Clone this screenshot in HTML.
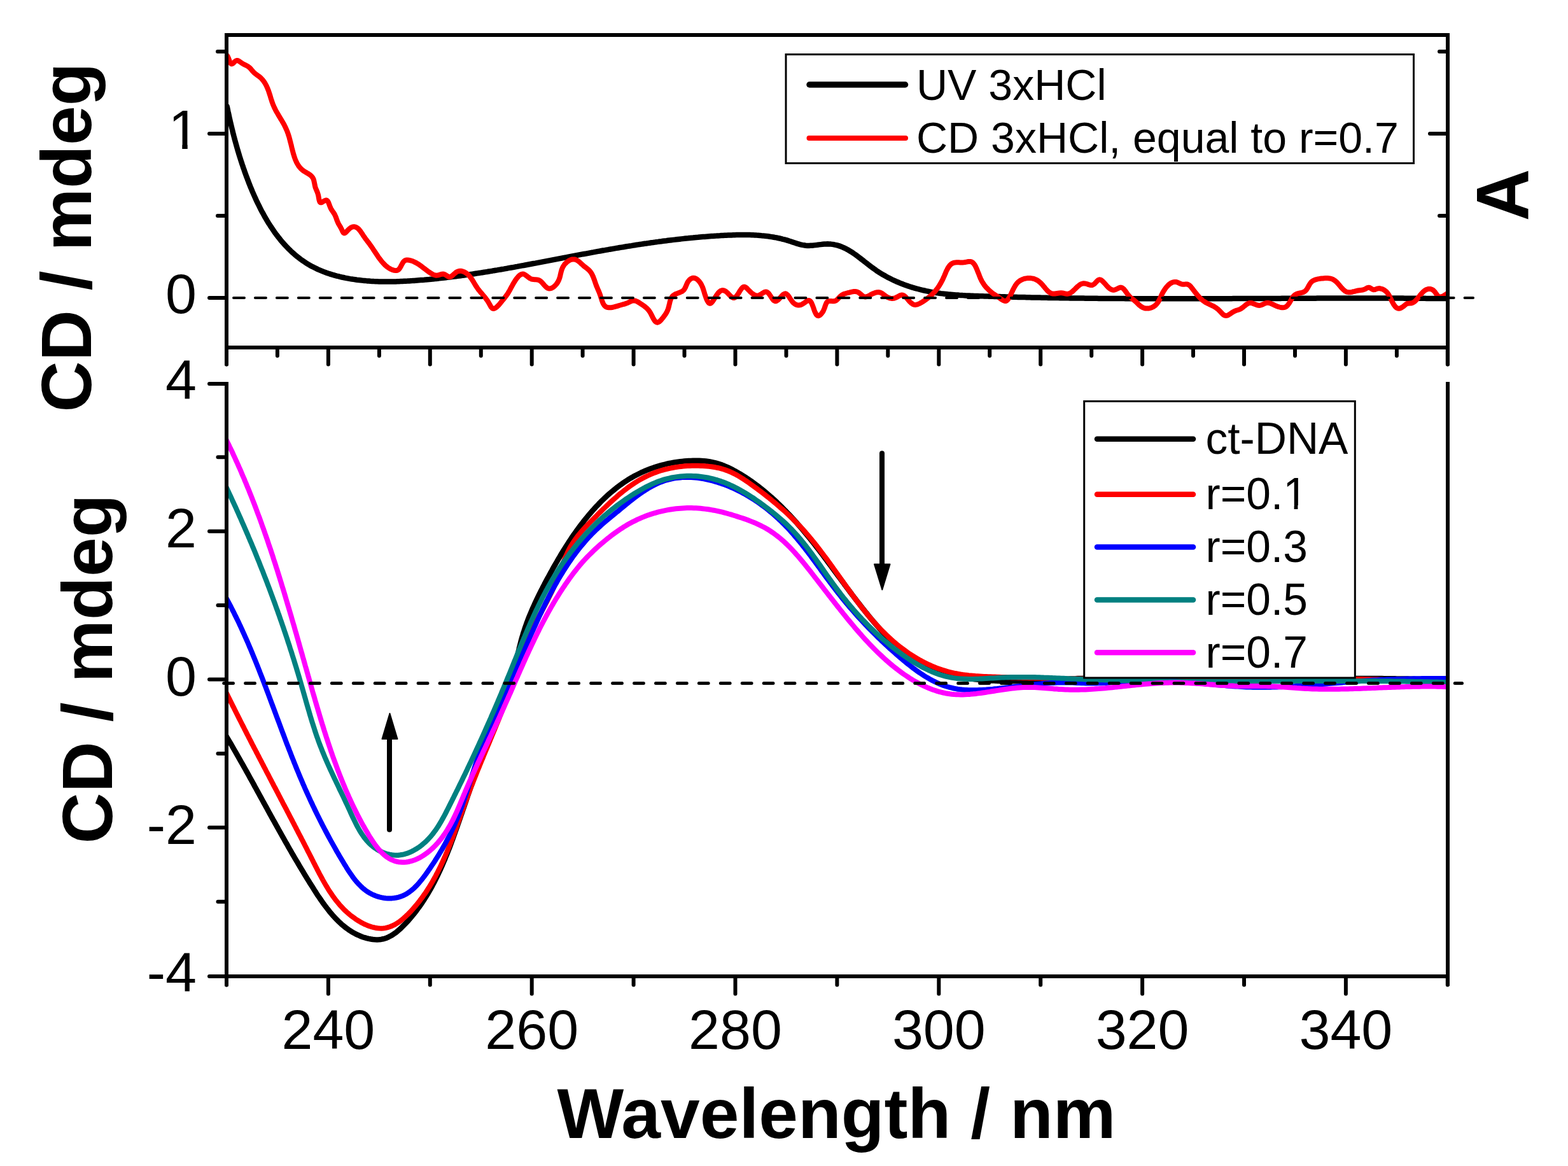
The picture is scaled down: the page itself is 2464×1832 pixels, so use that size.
<!DOCTYPE html><html><head><meta charset="utf-8"><title>CD spectra</title><style>html,body{margin:0;padding:0;background:#fff;}svg{display:block;}</style></head><body>
<svg xmlns="http://www.w3.org/2000/svg" width="2464" height="1832" viewBox="0 0 2464 1832">
<rect x="0" y="0" width="2464" height="1832" fill="#fff"/>
<defs><clipPath id="ctop"><rect x="356" y="55" width="1919" height="491"/></clipPath><clipPath id="cbot"><rect x="356" y="560" width="1919" height="974"/></clipPath><clipPath id="clip1"><rect x="240" y="150" width="90" height="76.9"/><rect x="286.3" y="227" width="8.4" height="13"/></clipPath><clipPath id="clip01"><rect x="1880" y="700" width="140.3" height="120"/><rect x="2020.3" y="700" width="40" height="93.9"/><rect x="2033.6" y="794" width="5.8" height="12"/></clipPath></defs>
<g clip-path="url(#ctop)" fill="none" stroke-linejoin="round" stroke-linecap="round">
<path d="M356.6,166.8 L357.2,169.5 L357.8,172.2 L358.3,174.8 L358.9,177.5 L359.5,180.1 L360.0,182.8 L360.6,185.4 L361.2,188.0 L361.8,190.6 L362.4,193.2 L363.0,195.8 L363.6,198.3 L364.2,200.9 L364.9,203.5 L365.5,206.0 L366.1,208.6 L366.8,211.1 L367.4,213.6 L368.1,216.1 L368.7,218.7 L369.4,221.2 L370.1,223.7 L370.8,226.2 L371.5,228.7 L372.2,231.2 L372.9,233.6 L373.6,236.1 L374.4,238.6 L375.1,241.1 L375.9,243.6 L376.6,246.0 L377.4,248.5 L378.2,251.0 L379.0,253.5 L379.8,255.9 L380.6,258.4 L381.5,260.9 L382.3,263.4 L383.2,265.8 L384.0,268.3 L384.9,270.8 L385.8,273.3 L386.7,275.7 L387.6,278.2 L388.6,280.7 L389.5,283.2 L390.5,285.7 L391.4,288.2 L392.4,290.7 L393.4,293.2 L394.5,295.7 L395.5,298.1 L396.5,300.6 L397.6,303.1 L398.7,305.6 L399.8,308.1 L400.9,310.5 L402.0,313.0 L403.1,315.4 L404.3,317.9 L405.5,320.3 L406.7,322.7 L407.9,325.2 L409.1,327.6 L410.3,330.0 L411.6,332.4 L412.9,334.7 L414.2,337.1 L415.5,339.5 L416.8,341.8 L418.2,344.1 L419.5,346.4 L420.9,348.7 L422.3,351.0 L423.8,353.3 L425.2,355.5 L426.7,357.7 L428.2,359.9 L429.7,362.1 L431.2,364.3 L432.7,366.5 L434.3,368.6 L435.9,370.7 L437.5,372.8 L439.2,374.8 L440.8,376.9 L442.5,378.9 L444.2,380.9 L445.9,382.8 L447.7,384.8 L449.4,386.7 L451.2,388.6 L453.0,390.4 L454.9,392.3 L456.7,394.1 L458.6,395.8 L460.5,397.6 L462.5,399.3 L464.4,401.0 L466.4,402.6 L468.4,404.2 L470.5,405.8 L472.5,407.4 L474.6,408.9 L476.7,410.3 L478.9,411.8 L481.0,413.2 L483.2,414.6 L485.4,415.9 L487.7,417.2 L489.9,418.4 L492.2,419.6 L494.6,420.8 L496.9,421.9 L499.3,423.1 L501.7,424.1 L504.1,425.1 L506.5,426.1 L509.0,427.1 L511.4,428.0 L513.9,428.9 L516.5,429.8 L519.0,430.6 L521.5,431.4 L524.1,432.1 L526.6,432.9 L529.2,433.6 L531.8,434.2 L534.4,434.9 L537.0,435.5 L539.7,436.0 L542.3,436.6 L544.9,437.1 L547.6,437.6 L550.2,438.1 L552.9,438.5 L555.6,438.9 L558.2,439.3 L560.9,439.7 L563.6,440.0 L566.2,440.3 L568.9,440.6 L571.5,440.9 L574.2,441.1 L576.9,441.4 L579.5,441.6 L582.2,441.8 L584.8,441.9 L587.5,442.1 L590.1,442.2 L592.8,442.3 L595.4,442.4 L598.1,442.4 L600.7,442.5 L603.4,442.5 L606.0,442.6 L608.7,442.6 L611.3,442.6 L613.9,442.5 L616.6,442.5 L619.2,442.4 L621.9,442.4 L624.5,442.3 L627.1,442.2 L629.7,442.1 L632.4,442.0 L635.0,441.8 L637.6,441.7 L640.3,441.6 L642.9,441.4 L645.5,441.2 L648.1,441.1 L650.8,440.9 L653.4,440.7 L656.0,440.5 L658.6,440.3 L661.3,440.1 L663.9,439.9 L666.5,439.7 L669.1,439.4 L671.7,439.2 L674.4,439.0 L677.0,438.7 L679.6,438.5 L682.2,438.2 L684.8,437.9 L687.5,437.7 L690.1,437.4 L692.7,437.1 L695.3,436.8 L697.9,436.5 L700.5,436.2 L703.1,435.9 L705.8,435.6 L708.4,435.2 L711.0,434.9 L713.6,434.6 L716.2,434.3 L718.8,433.9 L721.4,433.6 L724.0,433.2 L726.6,432.9 L729.2,432.5 L731.9,432.1 L734.5,431.8 L737.1,431.4 L739.7,431.0 L742.3,430.6 L744.9,430.2 L747.5,429.8 L750.1,429.4 L752.7,429.0 L755.3,428.6 L757.9,428.2 L760.5,427.8 L763.1,427.4 L765.7,427.0 L768.3,426.5 L770.9,426.1 L773.5,425.7 L776.1,425.2 L778.7,424.8 L781.3,424.4 L783.9,423.9 L786.5,423.5 L789.1,423.0 L791.7,422.6 L794.3,422.1 L796.9,421.7 L799.5,421.2 L802.1,420.7 L804.7,420.3 L807.3,419.8 L809.9,419.3 L812.5,418.9 L815.1,418.4 L817.7,417.9 L820.3,417.4 L822.9,417.0 L825.5,416.5 L828.1,416.0 L830.7,415.5 L833.3,415.0 L835.9,414.5 L838.5,414.0 L841.1,413.6 L843.7,413.1 L846.3,412.6 L848.9,412.1 L851.5,411.6 L854.1,411.1 L856.7,410.6 L859.3,410.1 L861.9,409.6 L864.5,409.1 L867.1,408.6 L869.7,408.1 L872.3,407.6 L874.9,407.1 L877.5,406.6 L880.1,406.1 L882.7,405.6 L885.3,405.1 L887.9,404.6 L890.5,404.2 L893.1,403.7 L895.7,403.2 L898.3,402.7 L900.9,402.2 L903.6,401.7 L906.2,401.2 L908.8,400.7 L911.4,400.2 L914.0,399.7 L916.6,399.2 L919.2,398.8 L921.8,398.3 L924.4,397.8 L927.0,397.3 L929.6,396.8 L932.2,396.4 L934.8,395.9 L937.4,395.4 L940.0,394.9 L942.6,394.5 L945.2,394.0 L947.8,393.5 L950.4,393.1 L953.0,392.6 L955.7,392.2 L958.3,391.7 L960.9,391.3 L963.5,390.8 L966.1,390.4 L968.7,389.9 L971.3,389.5 L973.9,389.0 L976.5,388.6 L979.1,388.2 L981.8,387.7 L984.4,387.3 L987.0,386.9 L989.6,386.5 L992.2,386.1 L994.8,385.6 L997.4,385.2 L1000.0,384.8 L1002.7,384.4 L1005.3,384.0 L1007.9,383.6 L1010.5,383.2 L1013.1,382.8 L1015.7,382.5 L1018.3,382.1 L1021.0,381.7 L1023.6,381.3 L1026.2,381.0 L1028.8,380.6 L1031.4,380.2 L1034.0,379.9 L1036.7,379.5 L1039.3,379.2 L1041.9,378.8 L1044.5,378.5 L1047.1,378.2 L1049.8,377.8 L1052.4,377.5 L1055.0,377.2 L1057.6,376.9 L1060.2,376.6 L1062.9,376.3 L1065.5,376.0 L1068.1,375.7 L1070.7,375.4 L1073.3,375.1 L1076.0,374.8 L1078.6,374.5 L1081.2,374.3 L1083.8,374.0 L1086.5,373.7 L1089.1,373.5 L1091.7,373.2 L1094.3,373.0 L1096.9,372.8 L1099.6,372.5 L1102.2,372.3 L1104.8,372.1 L1107.4,371.9 L1110.1,371.7 L1112.7,371.5 L1115.3,371.3 L1118.0,371.1 L1120.6,370.9 L1123.2,370.7 L1125.8,370.6 L1128.5,370.4 L1131.1,370.3 L1133.7,370.1 L1136.3,370.0 L1139.0,369.8 L1141.6,369.7 L1144.2,369.6 L1146.9,369.5 L1149.5,369.4 L1152.1,369.3 L1154.7,369.2 L1157.4,369.1 L1160.0,369.1 L1162.6,369.0 L1165.3,369.0 L1167.9,369.0 L1170.5,369.0 L1173.1,369.0 L1175.7,369.1 L1178.4,369.1 L1181.0,369.2 L1183.6,369.3 L1186.2,369.4 L1188.8,369.6 L1191.4,369.7 L1194.0,369.9 L1196.6,370.2 L1199.3,370.4 L1201.9,370.7 L1204.4,371.0 L1207.0,371.3 L1209.6,371.7 L1212.2,372.1 L1214.8,372.5 L1217.4,373.0 L1220.0,373.4 L1222.5,374.0 L1225.1,374.5 L1227.7,375.1 L1230.2,375.8 L1232.8,376.4 L1235.4,377.1 L1237.9,377.9 L1240.4,378.7 L1243.0,379.5 L1245.5,380.4 L1248.1,381.2 L1250.6,382.1 L1253.1,382.9 L1255.7,383.6 L1258.3,384.3 L1260.8,384.9 L1263.4,385.3 L1266.0,385.7 L1268.6,385.9 L1271.3,385.9 L1273.9,385.8 L1276.6,385.7 L1279.3,385.4 L1281.9,385.1 L1284.6,384.8 L1287.3,384.4 L1289.9,384.1 L1292.6,383.8 L1295.2,383.6 L1297.9,383.4 L1300.5,383.3 L1303.1,383.4 L1305.6,383.6 L1308.2,383.9 L1310.7,384.3 L1313.1,384.8 L1315.6,385.4 L1318.0,386.1 L1320.4,386.9 L1322.8,387.8 L1325.1,388.8 L1327.4,389.9 L1329.7,391.0 L1331.9,392.2 L1334.1,393.5 L1336.3,394.8 L1338.5,396.2 L1340.7,397.6 L1342.8,399.1 L1345.0,400.6 L1347.1,402.2 L1349.2,403.8 L1351.3,405.4 L1353.4,407.0 L1355.5,408.6 L1357.6,410.3 L1359.8,412.0 L1361.9,413.6 L1364.0,415.3 L1366.1,416.9 L1368.3,418.6 L1370.4,420.2 L1372.6,421.8 L1374.8,423.3 L1377.0,424.9 L1379.2,426.4 L1381.4,427.8 L1383.7,429.3 L1386.0,430.7 L1388.3,432.0 L1390.6,433.3 L1392.9,434.6 L1395.3,435.9 L1397.6,437.1 L1400.0,438.3 L1402.4,439.5 L1404.8,440.6 L1407.2,441.7 L1409.6,442.8 L1412.1,443.8 L1414.5,444.8 L1417.0,445.8 L1419.5,446.8 L1422.0,447.7 L1424.5,448.6 L1427.0,449.4 L1429.5,450.3 L1432.1,451.1 L1434.6,451.9 L1437.1,452.6 L1439.7,453.3 L1442.3,454.0 L1444.8,454.7 L1447.4,455.3 L1450.0,456.0 L1452.6,456.5 L1455.2,457.1 L1457.8,457.6 L1460.4,458.2 L1463.0,458.7 L1465.6,459.1 L1468.2,459.6 L1470.8,460.0 L1473.4,460.4 L1476.0,460.7 L1478.6,461.1 L1481.3,461.4 L1483.9,461.7 L1486.5,462.0 L1489.1,462.3 L1491.7,462.6 L1494.4,462.8 L1497.0,463.0 L1499.6,463.2 L1502.3,463.4 L1504.9,463.6 L1507.5,463.8 L1510.1,463.9 L1512.8,464.1 L1515.4,464.2 L1518.0,464.4 L1520.7,464.5 L1523.3,464.6 L1525.9,464.7 L1528.6,464.8 L1531.2,464.9 L1533.8,465.0 L1536.5,465.1 L1539.1,465.2 L1541.8,465.3 L1544.4,465.3 L1547.0,465.4 L1549.7,465.5 L1552.3,465.6 L1554.9,465.7 L1557.6,465.8 L1560.2,465.8 L1562.8,465.9 L1565.5,466.0 L1568.1,466.1 L1570.8,466.1 L1573.4,466.2 L1576.0,466.3 L1578.7,466.3 L1581.3,466.4 L1583.9,466.5 L1586.6,466.6 L1589.2,466.6 L1591.8,466.7 L1594.5,466.8 L1597.1,466.8 L1599.8,466.9 L1602.4,466.9 L1605.0,467.0 L1607.7,467.1 L1610.3,467.1 L1613.0,467.2 L1615.6,467.2 L1618.2,467.3 L1620.9,467.4 L1623.5,467.4 L1626.1,467.5 L1628.8,467.5 L1631.4,467.6 L1634.1,467.6 L1636.7,467.7 L1639.3,467.7 L1642.0,467.8 L1644.6,467.8 L1647.3,467.9 L1649.9,467.9 L1652.5,467.9 L1655.2,468.0 L1657.8,468.0 L1660.5,468.1 L1663.1,468.1 L1665.7,468.2 L1668.4,468.2 L1671.0,468.2 L1673.7,468.3 L1676.3,468.3 L1678.9,468.3 L1681.6,468.4 L1684.2,468.4 L1686.9,468.4 L1689.5,468.5 L1692.1,468.5 L1694.8,468.5 L1697.4,468.6 L1700.1,468.6 L1702.7,468.6 L1705.3,468.7 L1708.0,468.7 L1710.6,468.7 L1713.3,468.7 L1715.9,468.8 L1718.5,468.8 L1721.2,468.8 L1723.8,468.8 L1726.5,468.9 L1729.1,468.9 L1731.7,468.9 L1734.4,468.9 L1737.0,469.0 L1739.7,469.0 L1742.3,469.0 L1745.0,469.0 L1747.6,469.0 L1750.2,469.1 L1752.9,469.1 L1755.5,469.1 L1758.2,469.1 L1760.8,469.1 L1763.4,469.1 L1766.1,469.1 L1768.7,469.2 L1771.4,469.2 L1774.0,469.2 L1776.7,469.2 L1779.3,469.2 L1781.9,469.2 L1784.6,469.2 L1787.2,469.2 L1789.9,469.2 L1792.5,469.3 L1795.2,469.3 L1797.8,469.3 L1800.4,469.3 L1803.1,469.3 L1805.7,469.3 L1808.4,469.3 L1811.0,469.3 L1813.6,469.3 L1816.3,469.3 L1818.9,469.3 L1821.6,469.3 L1824.2,469.3 L1826.9,469.3 L1829.5,469.3 L1832.1,469.3 L1834.8,469.3 L1837.4,469.3 L1840.1,469.3 L1842.7,469.3 L1845.4,469.3 L1848.0,469.3 L1850.6,469.3 L1853.3,469.3 L1855.9,469.3 L1858.6,469.3 L1861.2,469.3 L1863.9,469.3 L1866.5,469.3 L1869.1,469.3 L1871.8,469.3 L1874.4,469.3 L1877.1,469.3 L1879.7,469.3 L1882.4,469.3 L1885.0,469.3 L1887.6,469.3 L1890.3,469.3 L1892.9,469.3 L1895.6,469.3 L1898.2,469.3 L1900.9,469.3 L1903.5,469.2 L1906.1,469.2 L1908.8,469.2 L1911.4,469.2 L1914.1,469.2 L1916.7,469.2 L1919.4,469.2 L1922.0,469.2 L1924.7,469.2 L1927.3,469.2 L1929.9,469.2 L1932.6,469.2 L1935.2,469.2 L1937.9,469.1 L1940.5,469.1 L1943.2,469.1 L1945.8,469.1 L1948.4,469.1 L1951.1,469.1 L1953.7,469.1 L1956.4,469.1 L1959.0,469.1 L1961.7,469.1 L1964.3,469.0 L1966.9,469.0 L1969.6,469.0 L1972.2,469.0 L1974.9,469.0 L1977.5,469.0 L1980.2,469.0 L1982.8,469.0 L1985.4,469.0 L1988.1,469.0 L1990.7,468.9 L1993.4,468.9 L1996.0,468.9 L1998.7,468.9 L2001.3,468.9 L2003.9,468.9 L2006.6,468.9 L2009.2,468.9 L2011.9,468.9 L2014.5,468.8 L2017.2,468.8 L2019.8,468.8 L2022.4,468.8 L2025.1,468.8 L2027.7,468.8 L2030.4,468.8 L2033.0,468.8 L2035.7,468.8 L2038.3,468.8 L2040.9,468.7 L2043.6,468.7 L2046.2,468.7 L2048.9,468.7 L2051.5,468.7 L2054.2,468.7 L2056.8,468.7 L2059.4,468.7 L2062.1,468.7 L2064.7,468.7 L2067.4,468.7 L2070.0,468.6 L2072.7,468.6 L2075.3,468.6 L2077.9,468.6 L2080.6,468.6 L2083.2,468.6 L2085.9,468.6 L2088.5,468.6 L2091.2,468.6 L2093.8,468.6 L2096.4,468.6 L2099.1,468.6 L2101.7,468.6 L2104.4,468.6 L2107.0,468.6 L2109.6,468.6 L2112.3,468.6 L2114.9,468.5 L2117.6,468.5 L2120.2,468.5 L2122.9,468.5 L2125.5,468.5 L2128.1,468.5 L2130.8,468.5 L2133.4,468.5 L2136.1,468.5 L2138.7,468.5 L2141.3,468.5 L2144.0,468.5 L2146.6,468.5 L2149.3,468.5 L2151.9,468.5 L2154.6,468.5 L2157.2,468.5 L2159.8,468.5 L2162.5,468.5 L2165.1,468.5 L2167.8,468.5 L2170.4,468.6 L2173.0,468.6 L2175.7,468.6 L2178.3,468.6 L2181.0,468.6 L2183.6,468.6 L2186.2,468.6 L2188.9,468.6 L2191.5,468.6 L2194.2,468.6 L2196.8,468.6 L2199.4,468.6 L2202.1,468.6 L2204.7,468.6 L2207.4,468.7 L2210.0,468.7 L2212.6,468.7 L2215.3,468.7 L2217.9,468.7 L2220.6,468.7 L2223.2,468.7 L2225.8,468.8 L2228.5,468.8 L2231.1,468.8 L2233.8,468.8 L2236.4,468.8 L2239.0,468.8 L2241.7,468.9 L2244.3,468.9 L2247.0,468.9 L2249.6,468.9 L2252.2,468.9 L2254.9,469.0 L2257.5,469.0 L2260.1,469.0 L2262.8,469.0 L2265.4,469.0 L2268.1,469.1 L2270.7,469.1 L2273.3,469.1 L2276.0,469.2" stroke="#000" stroke-width="8.5"/>
<path d="M356.5,86.9 L357.6,88.4 L358.5,90.3 L359.4,92.4 L360.2,94.6 L360.9,96.6 L361.7,98.4 L362.6,99.8 L363.6,100.5 L364.6,100.5 L365.9,99.8 L367.3,98.5 L368.7,97.0 L370.2,95.8 L371.8,95.0 L373.3,94.9 L374.9,95.6 L376.4,96.6 L378.0,97.8 L379.6,98.9 L381.2,99.9 L382.8,100.8 L384.4,101.6 L386.0,102.4 L387.5,103.1 L388.9,103.9 L390.3,104.8 L391.7,105.9 L392.9,107.0 L394.1,108.3 L395.2,109.6 L396.3,111.0 L397.5,112.3 L398.7,113.6 L400.0,114.8 L401.3,115.8 L402.7,116.9 L404.1,117.9 L405.5,118.9 L406.9,119.9 L408.2,121.0 L409.6,122.1 L410.8,123.4 L412.0,124.7 L413.2,126.1 L414.3,127.5 L415.3,129.0 L416.3,130.5 L417.2,132.1 L418.1,133.7 L418.9,135.3 L419.6,137.0 L420.4,138.6 L421.0,140.3 L421.7,141.9 L422.3,143.6 L422.8,145.3 L423.4,147.0 L423.9,148.7 L424.5,150.4 L425.0,152.1 L425.5,153.8 L426.0,155.5 L426.6,157.2 L427.1,158.9 L427.7,160.6 L428.3,162.2 L428.9,163.9 L429.6,165.6 L430.3,167.2 L431.0,168.8 L431.8,170.4 L432.6,172.0 L433.4,173.6 L434.3,175.2 L435.2,176.8 L436.1,178.3 L437.0,179.9 L437.9,181.4 L438.8,183.0 L439.8,184.5 L440.7,186.1 L441.6,187.6 L442.6,189.2 L443.5,190.7 L444.4,192.3 L445.3,193.9 L446.2,195.4 L447.0,197.0 L447.8,198.6 L448.6,200.2 L449.3,201.8 L450.0,203.4 L450.7,205.0 L451.4,206.6 L452.0,208.3 L452.6,209.9 L453.1,211.6 L453.7,213.3 L454.2,214.9 L454.7,216.6 L455.1,218.3 L455.6,220.0 L456.0,221.8 L456.5,223.5 L456.9,225.2 L457.4,227.0 L457.8,228.7 L458.2,230.5 L458.6,232.2 L459.1,234.0 L459.5,235.8 L460.0,237.5 L460.4,239.3 L460.9,241.1 L461.4,242.8 L462.0,244.6 L462.5,246.3 L463.1,248.0 L463.7,249.7 L464.4,251.4 L465.1,253.0 L465.8,254.7 L466.6,256.2 L467.5,257.7 L468.4,259.2 L469.3,260.7 L470.3,262.0 L471.4,263.4 L472.6,264.7 L473.8,265.9 L475.1,267.0 L476.5,268.1 L478.0,269.1 L479.5,270.0 L481.1,270.9 L482.6,271.9 L484.2,272.8 L485.7,273.7 L487.1,274.7 L488.5,275.8 L489.7,277.0 L490.8,278.3 L491.7,279.7 L492.5,281.3 L493.1,283.0 L493.5,284.8 L493.9,286.7 L494.3,288.6 L494.6,290.4 L495.0,292.2 L495.4,294.0 L496.0,295.6 L496.6,297.1 L497.3,298.7 L497.9,300.2 L498.6,301.8 L499.2,303.6 L499.8,305.4 L500.3,307.5 L500.7,309.7 L501.1,312.0 L501.5,314.2 L502.0,316.0 L502.7,317.4 L503.6,318.2 L504.8,318.3 L506.3,317.7 L507.9,316.7 L509.6,315.6 L511.3,314.8 L512.7,314.5 L514.0,315.0 L515.0,316.0 L515.9,317.6 L516.7,319.5 L517.4,321.5 L518.2,323.6 L519.0,325.7 L519.8,327.5 L520.8,329.2 L521.8,330.8 L522.8,332.2 L523.8,333.6 L524.7,335.0 L525.6,336.4 L526.4,338.0 L527.1,339.6 L527.8,341.2 L528.4,342.9 L529.0,344.6 L529.6,346.3 L530.3,348.0 L531.0,349.6 L531.7,351.2 L532.6,352.7 L533.5,354.2 L534.4,355.7 L535.3,357.3 L536.2,359.0 L537.1,360.9 L538.0,362.9 L538.9,364.6 L539.8,365.8 L540.9,366.4 L542.1,366.1 L543.4,365.1 L544.8,363.7 L546.3,362.1 L547.9,360.4 L549.5,359.0 L551.0,357.8 L552.6,357.0 L554.2,356.4 L555.8,356.2 L557.3,356.3 L558.7,356.6 L560.1,357.3 L561.5,358.1 L562.8,359.2 L564.0,360.4 L565.2,361.8 L566.4,363.3 L567.5,364.9 L568.6,366.5 L569.7,368.2 L570.8,369.9 L571.9,371.5 L573.0,373.1 L574.0,374.6 L575.1,376.0 L576.2,377.4 L577.2,378.8 L578.3,380.1 L579.3,381.5 L580.3,382.8 L581.3,384.2 L582.3,385.6 L583.3,387.0 L584.3,388.4 L585.3,389.9 L586.3,391.4 L587.2,392.8 L588.2,394.3 L589.2,395.8 L590.2,397.3 L591.2,398.8 L592.2,400.3 L593.2,401.8 L594.2,403.3 L595.3,404.8 L596.4,406.3 L597.5,407.7 L598.6,409.2 L599.7,410.6 L600.9,412.0 L602.1,413.4 L603.4,414.7 L604.6,416.0 L605.9,417.2 L607.3,418.4 L608.7,419.5 L610.1,420.5 L611.6,421.5 L613.1,422.4 L614.7,423.2 L616.3,423.9 L618.0,424.4 L619.7,424.9 L621.4,425.1 L623.0,425.1 L624.5,424.7 L625.9,424.0 L627.1,422.8 L628.2,421.3 L629.3,419.6 L630.3,417.8 L631.2,415.9 L632.3,414.0 L633.3,412.3 L634.5,410.8 L635.8,409.6 L637.2,408.9 L638.9,408.5 L640.6,408.5 L642.4,408.7 L644.1,409.1 L645.9,409.5 L647.5,410.0 L649.1,410.6 L650.7,411.3 L652.3,412.1 L653.8,412.9 L655.3,413.7 L656.8,414.6 L658.3,415.6 L659.7,416.6 L661.2,417.6 L662.6,418.7 L664.0,419.8 L665.5,420.9 L666.9,422.0 L668.4,423.1 L669.8,424.2 L671.3,425.3 L672.8,426.4 L674.3,427.5 L675.9,428.5 L677.5,429.6 L679.1,430.5 L680.7,431.4 L682.4,432.0 L684.0,432.5 L685.7,432.7 L687.5,432.6 L689.2,432.3 L690.9,431.7 L692.7,431.2 L694.4,430.7 L696.1,430.5 L697.7,430.7 L699.3,431.4 L700.9,432.4 L702.5,433.5 L704.0,434.4 L705.5,435.1 L707.0,435.1 L708.4,434.7 L709.9,433.8 L711.3,432.6 L712.8,431.2 L714.3,429.8 L715.9,428.5 L717.5,427.3 L719.2,426.5 L720.9,426.0 L722.7,425.8 L724.5,425.8 L726.2,426.1 L727.9,426.7 L729.6,427.3 L731.2,428.2 L732.6,429.1 L734.0,430.2 L735.4,431.3 L736.6,432.6 L737.8,433.9 L738.9,435.3 L740.0,436.7 L741.1,438.2 L742.1,439.8 L743.1,441.3 L744.1,442.9 L745.0,444.5 L746.0,446.1 L746.9,447.7 L747.9,449.3 L748.9,450.8 L749.9,452.3 L750.9,453.7 L751.9,455.1 L753.0,456.4 L754.1,457.8 L755.2,459.1 L756.3,460.4 L757.4,461.7 L758.5,463.0 L759.6,464.3 L760.7,465.6 L761.8,466.9 L762.9,468.3 L764.0,469.7 L765.0,471.2 L766.1,472.7 L767.1,474.3 L768.1,476.0 L769.1,477.7 L770.1,479.5 L771.0,481.2 L772.0,482.7 L773.1,483.9 L774.2,484.7 L775.5,485.0 L776.9,484.7 L778.3,484.0 L779.8,483.0 L781.3,481.7 L782.8,480.2 L784.4,478.5 L785.9,476.7 L787.3,474.9 L788.7,473.2 L790.0,471.6 L791.3,470.1 L792.4,468.7 L793.5,467.3 L794.6,465.9 L795.5,464.6 L796.5,463.3 L797.4,462.0 L798.3,460.6 L799.1,459.2 L799.9,457.8 L800.8,456.4 L801.6,454.9 L802.4,453.3 L803.2,451.8 L804.1,450.2 L805.0,448.6 L805.9,446.9 L806.9,445.2 L808.0,443.5 L809.1,441.7 L810.2,439.9 L811.5,438.1 L812.8,436.5 L814.1,434.9 L815.4,433.5 L816.8,432.3 L818.2,431.4 L819.7,430.8 L821.1,430.5 L822.6,430.6 L824.0,431.1 L825.4,431.9 L826.9,433.0 L828.4,434.1 L829.9,435.3 L831.5,436.5 L833.1,437.5 L834.8,438.3 L836.6,438.8 L838.4,439.1 L840.2,439.2 L842.0,439.3 L843.8,439.4 L845.5,439.7 L847.1,440.3 L848.7,441.2 L850.1,442.3 L851.5,443.6 L852.8,445.1 L854.1,446.6 L855.4,448.1 L856.7,449.5 L858.0,450.8 L859.3,451.9 L860.7,452.8 L862.1,453.3 L863.6,453.4 L865.2,453.2 L866.8,452.7 L868.4,451.8 L870.0,450.8 L871.5,449.5 L873.0,448.0 L874.3,446.5 L875.6,444.8 L876.6,443.1 L877.5,441.4 L878.3,439.7 L878.9,438.0 L879.5,436.3 L880.0,434.5 L880.4,432.8 L880.8,431.0 L881.2,429.3 L881.6,427.6 L882.1,425.9 L882.6,424.2 L883.2,422.5 L883.9,420.8 L884.7,419.2 L885.7,417.6 L886.7,416.1 L887.9,414.6 L889.2,413.3 L890.5,412.0 L891.9,410.9 L893.3,409.9 L894.9,409.0 L896.4,408.3 L898.0,407.8 L899.6,407.5 L901.2,407.4 L902.8,407.5 L904.4,407.9 L906.0,408.6 L907.6,409.5 L909.1,410.5 L910.6,411.8 L912.1,413.1 L913.6,414.5 L915.1,415.8 L916.6,417.2 L918.0,418.4 L919.5,419.5 L920.9,420.6 L922.3,421.7 L923.6,422.8 L924.9,423.9 L926.1,425.0 L927.2,426.3 L928.2,427.6 L929.2,429.0 L930.1,430.6 L930.9,432.2 L931.6,433.8 L932.4,435.5 L933.0,437.2 L933.7,439.0 L934.3,440.8 L934.9,442.5 L935.5,444.3 L936.1,446.0 L936.7,447.7 L937.3,449.3 L938.0,450.9 L938.7,452.5 L939.3,454.0 L940.0,455.6 L940.7,457.2 L941.4,458.8 L942.0,460.4 L942.7,462.2 L943.3,464.0 L943.9,465.9 L944.5,467.8 L945.2,469.8 L945.8,471.8 L946.5,473.7 L947.2,475.5 L948.0,477.2 L948.9,478.7 L949.9,480.1 L951.0,481.2 L952.3,482.1 L953.7,482.7 L955.1,483.1 L956.7,483.3 L958.3,483.3 L960.1,483.2 L961.8,483.0 L963.6,482.6 L965.5,482.2 L967.3,481.7 L969.2,481.2 L971.0,480.6 L972.9,480.0 L974.7,479.5 L976.4,479.0 L978.1,478.5 L979.8,478.0 L981.4,477.6 L983.0,477.1 L984.6,476.5 L986.2,475.9 L987.8,475.2 L989.4,474.4 L991.0,473.6 L992.6,473.0 L994.2,472.5 L995.9,472.3 L997.5,472.4 L999.2,472.9 L1000.9,473.6 L1002.6,474.5 L1004.2,475.5 L1005.9,476.6 L1007.4,477.6 L1008.9,478.6 L1010.3,479.6 L1011.7,480.6 L1013.0,481.5 L1014.3,482.5 L1015.5,483.5 L1016.6,484.5 L1017.7,485.6 L1018.8,486.9 L1019.9,488.2 L1020.9,489.7 L1021.9,491.3 L1022.9,493.1 L1023.8,494.9 L1024.8,496.9 L1025.7,498.8 L1026.7,500.6 L1027.7,502.3 L1028.7,503.8 L1029.8,505.1 L1030.9,506.0 L1032.0,506.6 L1033.2,506.7 L1034.5,506.3 L1035.8,505.6 L1037.1,504.5 L1038.5,503.1 L1039.8,501.6 L1041.1,500.0 L1042.4,498.4 L1043.5,496.9 L1044.6,495.4 L1045.7,493.9 L1046.6,492.4 L1047.5,490.9 L1048.3,489.3 L1049.0,487.8 L1049.7,486.1 L1050.2,484.4 L1050.7,482.6 L1051.2,480.7 L1051.6,478.8 L1052.1,476.9 L1052.5,475.0 L1053.0,473.1 L1053.6,471.3 L1054.2,469.6 L1055.0,468.0 L1055.9,466.5 L1056.9,465.2 L1058.2,464.0 L1059.6,463.1 L1061.1,462.2 L1062.8,461.5 L1064.5,460.9 L1066.2,460.2 L1068.0,459.6 L1069.6,458.9 L1071.2,458.2 L1072.7,457.3 L1073.9,456.3 L1075.0,455.1 L1075.9,453.7 L1076.7,452.2 L1077.4,450.7 L1078.1,449.0 L1078.8,447.4 L1079.5,445.7 L1080.3,444.0 L1081.2,442.4 L1082.4,440.9 L1083.7,439.5 L1085.1,438.4 L1086.7,437.4 L1088.4,436.8 L1090.1,436.7 L1091.8,437.0 L1093.5,437.7 L1095.1,438.7 L1096.6,439.9 L1097.9,441.3 L1099.2,442.7 L1100.3,444.1 L1101.2,445.6 L1102.1,447.1 L1102.8,448.6 L1103.5,450.1 L1104.2,451.7 L1104.8,453.4 L1105.4,455.2 L1106.0,457.1 L1106.6,459.1 L1107.2,461.2 L1107.9,463.4 L1108.7,465.6 L1109.4,467.7 L1110.2,469.7 L1111.0,471.6 L1111.9,473.2 L1112.7,474.6 L1113.6,475.7 L1114.5,476.5 L1115.5,476.8 L1116.4,476.7 L1117.4,476.1 L1118.4,475.3 L1119.4,474.1 L1120.5,472.6 L1121.6,471.0 L1122.7,469.2 L1123.8,467.3 L1125.0,465.5 L1126.2,463.6 L1127.5,461.8 L1128.7,460.2 L1130.1,458.8 L1131.4,457.6 L1132.8,456.7 L1134.3,456.2 L1135.7,456.1 L1137.2,456.3 L1138.8,456.9 L1140.3,457.7 L1141.8,458.9 L1143.4,460.3 L1144.9,461.9 L1146.4,463.5 L1147.8,465.0 L1149.3,466.3 L1150.7,467.3 L1152.1,467.9 L1153.5,468.0 L1154.8,467.5 L1156.0,466.6 L1157.3,465.3 L1158.5,463.7 L1159.7,462.0 L1160.9,460.1 L1162.1,458.1 L1163.3,456.2 L1164.5,454.5 L1165.6,453.0 L1166.8,451.8 L1168.0,450.9 L1169.3,450.6 L1170.5,450.8 L1171.8,451.4 L1173.1,452.4 L1174.4,453.7 L1175.7,455.1 L1177.1,456.5 L1178.5,457.9 L1179.9,459.3 L1181.3,460.5 L1182.8,461.7 L1184.3,462.7 L1185.8,463.5 L1187.4,464.1 L1188.9,464.4 L1190.5,464.4 L1192.2,464.1 L1193.8,463.4 L1195.5,462.5 L1197.2,461.4 L1198.8,460.3 L1200.4,459.3 L1202.0,458.7 L1203.5,458.4 L1204.9,458.7 L1206.2,459.5 L1207.5,460.6 L1208.7,462.1 L1209.9,463.8 L1211.1,465.5 L1212.2,467.3 L1213.4,469.0 L1214.6,470.6 L1215.7,471.9 L1217.0,472.8 L1218.2,473.2 L1219.6,473.2 L1220.9,472.5 L1222.4,471.5 L1223.9,470.1 L1225.3,468.5 L1226.8,466.8 L1228.3,465.1 L1229.8,463.6 L1231.2,462.4 L1232.6,461.6 L1233.9,461.3 L1235.1,461.5 L1236.3,462.2 L1237.5,463.2 L1238.6,464.5 L1239.7,466.1 L1240.9,467.8 L1242.0,469.6 L1243.2,471.4 L1244.5,473.1 L1245.8,474.8 L1247.2,476.2 L1248.7,477.4 L1250.2,478.3 L1251.9,479.0 L1253.6,479.4 L1255.3,479.5 L1257.0,479.3 L1258.8,478.8 L1260.5,478.0 L1262.2,477.0 L1263.9,475.9 L1265.5,474.7 L1267.1,473.6 L1268.6,472.7 L1269.9,472.1 L1271.2,472.0 L1272.4,472.5 L1273.5,473.4 L1274.5,474.7 L1275.4,476.3 L1276.2,478.2 L1277.1,480.3 L1277.9,482.5 L1278.7,484.8 L1279.4,487.0 L1280.2,489.2 L1281.1,491.2 L1282.0,492.9 L1282.9,494.4 L1283.9,495.4 L1285.0,496.1 L1286.2,496.2 L1287.5,495.8 L1288.8,494.9 L1290.2,493.6 L1291.5,492.0 L1292.8,490.2 L1293.9,488.2 L1294.8,486.2 L1295.6,484.1 L1296.3,482.1 L1296.9,480.2 L1297.6,478.4 L1298.3,476.7 L1299.1,475.3 L1300.1,474.2 L1301.3,473.4 L1302.7,473.0 L1304.4,473.0 L1306.2,473.1 L1308.1,473.2 L1310.0,473.3 L1311.7,473.0 L1313.3,472.4 L1314.7,471.4 L1316.1,470.2 L1317.4,468.9 L1318.6,467.5 L1319.9,466.1 L1321.2,464.9 L1322.7,463.8 L1324.2,462.9 L1325.8,462.1 L1327.4,461.5 L1329.2,461.0 L1330.9,460.5 L1332.7,460.0 L1334.6,459.6 L1336.4,459.1 L1338.3,458.7 L1340.1,458.3 L1342.0,458.1 L1343.8,458.0 L1345.5,458.2 L1347.2,458.6 L1348.8,459.3 L1350.3,460.4 L1351.8,461.6 L1353.2,462.8 L1354.6,464.1 L1356.1,465.2 L1357.5,466.0 L1359.0,466.4 L1360.6,466.4 L1362.2,466.0 L1363.9,465.4 L1365.6,464.6 L1367.3,463.6 L1369.1,462.6 L1370.9,461.7 L1372.7,460.9 L1374.5,460.2 L1376.3,459.6 L1378.1,459.3 L1379.8,459.1 L1381.5,459.2 L1383.1,459.6 L1384.7,460.2 L1386.2,461.0 L1387.6,462.0 L1389.1,463.2 L1390.6,464.3 L1392.1,465.4 L1393.7,466.5 L1395.3,467.3 L1397.1,468.0 L1398.9,468.6 L1400.7,468.9 L1402.5,468.9 L1404.2,468.8 L1406.0,468.3 L1407.7,467.7 L1409.3,466.9 L1410.9,466.0 L1412.4,465.2 L1413.9,464.4 L1415.4,463.8 L1416.8,463.5 L1418.2,463.5 L1419.5,463.9 L1420.8,464.6 L1422.1,465.6 L1423.3,466.7 L1424.6,468.1 L1425.9,469.6 L1427.1,471.1 L1428.4,472.6 L1429.7,474.1 L1431.1,475.4 L1432.5,476.6 L1433.9,477.6 L1435.5,478.4 L1437.0,478.8 L1438.7,478.9 L1440.4,478.6 L1442.2,478.1 L1443.9,477.4 L1445.7,476.6 L1447.5,475.6 L1449.2,474.5 L1450.9,473.5 L1452.5,472.4 L1454.1,471.3 L1455.6,470.2 L1457.1,469.1 L1458.6,467.9 L1460.0,466.8 L1461.4,465.6 L1462.7,464.5 L1464.0,463.3 L1465.2,462.1 L1466.4,460.9 L1467.6,459.6 L1468.8,458.4 L1469.9,457.1 L1470.9,455.8 L1472.0,454.4 L1473.0,453.1 L1474.0,451.7 L1475.0,450.3 L1475.9,448.9 L1476.8,447.4 L1477.7,445.9 L1478.6,444.4 L1479.4,442.8 L1480.2,441.3 L1481.1,439.6 L1481.9,438.0 L1482.6,436.3 L1483.4,434.6 L1484.2,432.8 L1484.9,431.1 L1485.7,429.3 L1486.4,427.5 L1487.2,425.7 L1488.1,424.0 L1488.9,422.4 L1489.8,420.8 L1490.8,419.3 L1491.8,417.9 L1492.9,416.6 L1494.0,415.5 L1495.3,414.5 L1496.7,413.7 L1498.1,413.1 L1499.7,412.6 L1501.4,412.4 L1503.1,412.3 L1505.0,412.2 L1506.9,412.3 L1508.8,412.4 L1510.8,412.4 L1512.7,412.4 L1514.7,412.3 L1516.6,412.1 L1518.5,411.7 L1520.3,411.3 L1522.0,411.0 L1523.7,410.9 L1525.3,411.0 L1526.7,411.4 L1528.1,412.2 L1529.3,413.3 L1530.5,414.6 L1531.6,416.1 L1532.6,417.8 L1533.5,419.6 L1534.3,421.4 L1535.1,423.2 L1535.8,424.9 L1536.5,426.7 L1537.2,428.4 L1537.9,430.1 L1538.5,431.7 L1539.1,433.4 L1539.8,435.0 L1540.4,436.6 L1541.1,438.2 L1541.9,439.7 L1542.6,441.3 L1543.5,442.8 L1544.4,444.3 L1545.4,445.8 L1546.4,447.3 L1547.5,448.8 L1548.6,450.2 L1549.8,451.6 L1551.1,452.9 L1552.4,454.2 L1553.7,455.5 L1555.0,456.8 L1556.3,457.9 L1557.7,459.1 L1559.1,460.2 L1560.5,461.2 L1561.9,462.2 L1563.3,463.1 L1564.7,464.1 L1566.2,465.1 L1567.7,466.1 L1569.2,467.1 L1570.8,468.3 L1572.5,469.5 L1574.2,470.7 L1575.8,471.7 L1577.5,472.5 L1579.0,472.9 L1580.5,472.9 L1581.8,472.4 L1583.0,471.4 L1584.2,470.2 L1585.2,468.6 L1586.2,467.0 L1587.1,465.3 L1588.0,463.6 L1588.8,461.9 L1589.6,460.1 L1590.4,458.4 L1591.2,456.7 L1592.0,455.0 L1592.9,453.3 L1593.7,451.7 L1594.6,450.2 L1595.5,448.6 L1596.5,447.2 L1597.5,445.8 L1598.6,444.5 L1599.8,443.3 L1601.1,442.2 L1602.5,441.2 L1604.0,440.3 L1605.6,439.5 L1607.2,438.8 L1608.9,438.2 L1610.7,437.7 L1612.5,437.4 L1614.3,437.1 L1616.2,437.0 L1618.0,437.0 L1619.8,437.1 L1621.7,437.4 L1623.4,437.7 L1625.2,438.2 L1626.8,438.8 L1628.5,439.6 L1630.0,440.4 L1631.5,441.4 L1632.9,442.5 L1634.3,443.6 L1635.6,444.9 L1636.9,446.2 L1638.2,447.6 L1639.4,449.1 L1640.7,450.6 L1641.9,452.1 L1643.1,453.5 L1644.4,455.0 L1645.6,456.3 L1646.9,457.6 L1648.2,458.7 L1649.6,459.7 L1651.0,460.5 L1652.5,461.1 L1654.0,461.5 L1655.7,461.6 L1657.4,461.6 L1659.1,461.3 L1660.9,461.0 L1662.7,460.7 L1664.5,460.4 L1666.4,460.3 L1668.1,460.3 L1669.9,460.5 L1671.6,460.8 L1673.3,461.2 L1674.9,461.5 L1676.5,461.7 L1678.1,461.7 L1679.6,461.4 L1681.1,460.9 L1682.5,460.1 L1683.9,459.1 L1685.3,458.0 L1686.6,456.8 L1688.0,455.4 L1689.4,454.1 L1690.8,452.7 L1692.2,451.3 L1693.6,450.0 L1695.1,448.8 L1696.6,447.7 L1698.1,446.7 L1699.7,446.0 L1701.4,445.5 L1703.1,445.3 L1704.9,445.4 L1706.8,445.8 L1708.7,446.4 L1710.7,447.1 L1712.6,447.7 L1714.5,448.0 L1716.3,447.9 L1717.9,447.3 L1719.5,446.2 L1720.9,444.9 L1722.2,443.4 L1723.6,441.9 L1724.9,440.7 L1726.2,439.7 L1727.5,439.3 L1728.9,439.4 L1730.3,440.0 L1731.7,441.0 L1733.1,442.3 L1734.6,443.8 L1736.1,445.4 L1737.6,447.1 L1739.1,448.8 L1740.5,450.4 L1742.0,451.9 L1743.5,453.1 L1745.1,454.2 L1746.6,455.0 L1748.2,455.6 L1749.8,455.8 L1751.4,455.6 L1753.1,455.0 L1754.8,454.2 L1756.5,453.3 L1758.1,452.5 L1759.7,451.8 L1761.2,451.6 L1762.7,451.9 L1764.0,452.6 L1765.3,453.6 L1766.6,454.9 L1767.8,456.4 L1769.0,458.1 L1770.2,459.8 L1771.4,461.6 L1772.6,463.2 L1773.9,464.7 L1775.2,466.0 L1776.5,467.3 L1777.9,468.4 L1779.2,469.5 L1780.6,470.6 L1782.0,471.6 L1783.3,472.8 L1784.7,473.9 L1786.0,475.2 L1787.3,476.5 L1788.7,477.8 L1790.0,479.1 L1791.4,480.3 L1792.9,481.4 L1794.4,482.4 L1795.9,483.2 L1797.6,483.9 L1799.3,484.4 L1801.1,484.6 L1803.0,484.6 L1804.9,484.5 L1806.8,484.1 L1808.6,483.6 L1810.4,483.0 L1812.0,482.2 L1813.5,481.3 L1814.9,480.3 L1816.1,479.2 L1817.3,478.0 L1818.3,476.8 L1819.3,475.4 L1820.2,474.0 L1821.0,472.6 L1821.8,471.0 L1822.6,469.5 L1823.4,467.9 L1824.1,466.2 L1824.9,464.5 L1825.7,462.8 L1826.5,461.1 L1827.4,459.4 L1828.4,457.7 L1829.5,456.0 L1830.6,454.3 L1831.7,452.7 L1833.0,451.1 L1834.3,449.7 L1835.6,448.3 L1837.0,447.0 L1838.4,445.9 L1839.9,444.9 L1841.4,444.1 L1842.9,443.5 L1844.4,443.1 L1846.0,442.9 L1847.6,442.9 L1849.1,443.2 L1850.7,443.8 L1852.3,444.5 L1853.9,445.3 L1855.6,446.0 L1857.2,446.6 L1858.9,446.8 L1860.7,446.8 L1862.4,446.6 L1864.1,446.5 L1865.7,446.6 L1867.2,447.1 L1868.6,447.9 L1869.9,449.0 L1871.1,450.2 L1872.3,451.7 L1873.5,453.2 L1874.6,454.7 L1875.8,456.2 L1876.9,457.7 L1878.1,459.2 L1879.2,460.7 L1880.4,462.1 L1881.6,463.6 L1882.8,465.0 L1884.0,466.3 L1885.2,467.6 L1886.4,468.9 L1887.7,470.1 L1889.1,471.2 L1890.4,472.3 L1891.8,473.3 L1893.2,474.3 L1894.7,475.2 L1896.2,476.0 L1897.8,476.8 L1899.3,477.5 L1900.9,478.3 L1902.5,479.0 L1904.1,479.8 L1905.8,480.6 L1907.4,481.4 L1908.9,482.3 L1910.5,483.3 L1912.0,484.4 L1913.5,485.5 L1915.0,486.9 L1916.4,488.3 L1917.8,489.8 L1919.1,491.2 L1920.5,492.6 L1921.8,493.9 L1923.2,494.9 L1924.6,495.6 L1926.0,496.0 L1927.4,496.0 L1928.9,495.6 L1930.4,494.9 L1932.0,493.9 L1933.6,492.9 L1935.2,491.7 L1936.9,490.6 L1938.5,489.6 L1940.2,488.8 L1941.9,488.1 L1943.6,487.5 L1945.3,487.0 L1947.0,486.4 L1948.6,485.8 L1950.2,484.9 L1951.7,483.9 L1953.3,482.7 L1954.7,481.5 L1956.2,480.3 L1957.7,479.1 L1959.2,478.0 L1960.7,477.1 L1962.2,476.4 L1963.8,476.0 L1965.4,475.9 L1967.0,476.2 L1968.7,476.7 L1970.5,477.4 L1972.2,478.1 L1974.0,478.8 L1975.7,479.4 L1977.5,479.8 L1979.3,479.9 L1981.0,479.6 L1982.7,479.0 L1984.4,478.3 L1986.1,477.5 L1987.8,476.7 L1989.4,476.1 L1991.1,475.8 L1992.7,475.8 L1994.3,476.0 L1996.0,476.5 L1997.6,477.1 L1999.3,477.9 L2001.1,478.7 L2002.9,479.6 L2004.7,480.4 L2006.6,481.2 L2008.6,481.9 L2010.5,482.5 L2012.4,483.0 L2014.3,483.2 L2016.1,483.3 L2017.8,483.1 L2019.4,482.7 L2020.8,482.0 L2022.1,481.0 L2023.3,479.8 L2024.4,478.4 L2025.5,476.9 L2026.5,475.3 L2027.4,473.7 L2028.4,472.0 L2029.3,470.3 L2030.3,468.7 L2031.3,467.1 L2032.4,465.7 L2033.5,464.5 L2034.7,463.4 L2036.0,462.6 L2037.5,461.9 L2039.0,461.4 L2040.7,460.9 L2042.5,460.5 L2044.3,460.1 L2046.2,459.7 L2048.0,459.1 L2049.6,458.3 L2051.0,457.3 L2052.3,456.1 L2053.4,454.6 L2054.4,453.1 L2055.3,451.5 L2056.2,449.8 L2057.1,448.2 L2058.0,446.6 L2059.0,445.1 L2060.1,443.7 L2061.3,442.5 L2062.7,441.5 L2064.2,440.6 L2065.8,439.9 L2067.4,439.3 L2069.2,438.8 L2071.0,438.4 L2072.9,438.1 L2074.8,437.8 L2076.7,437.6 L2078.6,437.4 L2080.5,437.2 L2082.4,437.1 L2084.3,437.0 L2086.2,437.0 L2088.0,437.2 L2089.8,437.4 L2091.5,437.8 L2093.1,438.3 L2094.7,439.0 L2096.3,439.9 L2097.7,440.9 L2099.1,442.1 L2100.5,443.3 L2101.8,444.7 L2103.0,446.1 L2104.3,447.5 L2105.5,449.0 L2106.7,450.4 L2107.9,451.9 L2109.1,453.2 L2110.4,454.5 L2111.6,455.7 L2112.9,456.7 L2114.2,457.6 L2115.6,458.4 L2117.0,458.9 L2118.5,459.2 L2120.0,459.3 L2121.6,459.2 L2123.3,459.0 L2125.0,458.7 L2126.7,458.2 L2128.5,457.8 L2130.2,457.3 L2132.0,456.9 L2133.9,456.5 L2135.7,456.2 L2137.5,456.0 L2139.3,455.8 L2141.1,455.5 L2142.8,455.1 L2144.5,454.5 L2146.2,453.6 L2147.8,452.7 L2149.4,451.9 L2150.9,451.7 L2152.4,452.0 L2154.0,452.9 L2155.5,453.9 L2157.0,454.8 L2158.5,455.3 L2160.1,455.1 L2161.6,454.6 L2163.3,453.9 L2165.0,453.4 L2166.9,453.1 L2168.9,453.3 L2170.8,453.8 L2172.7,454.4 L2174.4,455.3 L2175.9,456.2 L2177.3,457.3 L2178.6,458.4 L2179.8,459.7 L2180.8,461.0 L2181.8,462.5 L2182.7,463.9 L2183.5,465.5 L2184.3,467.1 L2185.1,468.7 L2185.9,470.3 L2186.7,472.0 L2187.5,473.6 L2188.4,475.3 L2189.3,476.9 L2190.3,478.6 L2191.4,480.1 L2192.5,481.6 L2193.8,482.9 L2195.2,483.9 L2196.7,484.5 L2198.2,484.7 L2199.9,484.5 L2201.6,483.8 L2203.3,482.8 L2204.9,481.7 L2206.5,480.5 L2207.9,479.3 L2209.2,478.2 L2210.5,477.3 L2211.9,476.8 L2213.5,476.7 L2215.1,476.6 L2216.7,476.6 L2218.3,476.3 L2219.8,475.8 L2221.2,475.0 L2222.6,474.1 L2223.9,473.0 L2225.2,471.7 L2226.4,470.4 L2227.6,468.9 L2228.9,467.4 L2230.1,465.9 L2231.3,464.3 L2232.5,462.8 L2233.8,461.3 L2235.1,459.9 L2236.4,458.5 L2237.8,457.3 L2239.2,456.2 L2240.7,455.4 L2242.2,454.7 L2243.7,454.2 L2245.3,453.9 L2246.9,453.9 L2248.5,454.2 L2250.0,454.7 L2251.5,455.5 L2252.9,456.6 L2254.2,458.0 L2255.5,459.6 L2256.7,461.4 L2257.9,463.1 L2259.1,464.6 L2260.4,465.6 L2261.9,466.3 L2263.4,466.4 L2265.0,466.2 L2266.6,465.7 L2268.3,465.0 L2269.9,464.0 L2271.5,463.0 L2273.1,461.9 L2274.6,460.9 L2275.9,459.9" stroke="#f00" stroke-width="8"/>
</g>
<line x1="367" y1="468" x2="2315" y2="468" stroke="#000" stroke-width="4" stroke-linecap="round" stroke-dasharray="17 16.94"/>
<g stroke="#000" stroke-width="6" fill="none">
<path d="M356,572.5 V55 H2275 V572.5" stroke-linejoin="miter" stroke-linecap="round"/>
<line x1="356" y1="546" x2="2275" y2="546"/>
<line x1="356.0" y1="546" x2="356.0" y2="572.5" stroke-linecap="round"/>
<line x1="435.9" y1="546" x2="435.9" y2="559" stroke-linecap="round"/>
<line x1="515.9" y1="546" x2="515.9" y2="572.5" stroke-linecap="round"/>
<line x1="595.9" y1="546" x2="595.9" y2="559" stroke-linecap="round"/>
<line x1="675.8" y1="546" x2="675.8" y2="572.5" stroke-linecap="round"/>
<line x1="755.8" y1="546" x2="755.8" y2="559" stroke-linecap="round"/>
<line x1="835.7" y1="546" x2="835.7" y2="572.5" stroke-linecap="round"/>
<line x1="915.6" y1="546" x2="915.6" y2="559" stroke-linecap="round"/>
<line x1="995.6" y1="546" x2="995.6" y2="572.5" stroke-linecap="round"/>
<line x1="1075.5" y1="546" x2="1075.5" y2="559" stroke-linecap="round"/>
<line x1="1155.5" y1="546" x2="1155.5" y2="572.5" stroke-linecap="round"/>
<line x1="1235.5" y1="546" x2="1235.5" y2="559" stroke-linecap="round"/>
<line x1="1315.4" y1="546" x2="1315.4" y2="572.5" stroke-linecap="round"/>
<line x1="1395.3" y1="546" x2="1395.3" y2="559" stroke-linecap="round"/>
<line x1="1475.3" y1="546" x2="1475.3" y2="572.5" stroke-linecap="round"/>
<line x1="1555.2" y1="546" x2="1555.2" y2="559" stroke-linecap="round"/>
<line x1="1635.2" y1="546" x2="1635.2" y2="572.5" stroke-linecap="round"/>
<line x1="1715.2" y1="546" x2="1715.2" y2="559" stroke-linecap="round"/>
<line x1="1795.1" y1="546" x2="1795.1" y2="572.5" stroke-linecap="round"/>
<line x1="1875.0" y1="546" x2="1875.0" y2="559" stroke-linecap="round"/>
<line x1="1955.0" y1="546" x2="1955.0" y2="572.5" stroke-linecap="round"/>
<line x1="2035.0" y1="546" x2="2035.0" y2="559" stroke-linecap="round"/>
<line x1="2114.9" y1="546" x2="2114.9" y2="572.5" stroke-linecap="round"/>
<line x1="2194.9" y1="546" x2="2194.9" y2="559" stroke-linecap="round"/>
<line x1="2274.8" y1="546" x2="2274.8" y2="572.5" stroke-linecap="round"/>
<line x1="342" y1="81" x2="356" y2="81" stroke-linecap="round"/>
<line x1="2262" y1="81" x2="2275" y2="81" stroke-linecap="round"/>
<line x1="329" y1="210" x2="356" y2="210" stroke-linecap="round"/>
<line x1="2247" y1="210" x2="2275" y2="210" stroke-linecap="round"/>
<line x1="342" y1="339" x2="356" y2="339" stroke-linecap="round"/>
<line x1="2262" y1="339" x2="2275" y2="339" stroke-linecap="round"/>
<line x1="329" y1="468" x2="356" y2="468" stroke-linecap="round"/>
<line x1="2247" y1="468" x2="2275" y2="468" stroke-linecap="round"/>
</g>
<g clip-path="url(#cbot)" fill="none" stroke-linejoin="round" stroke-linecap="round">
<path d="M355.0,1155.6 L356.7,1158.6 L358.5,1161.6 L360.3,1164.6 L362.0,1167.6 L363.8,1170.5 L365.5,1173.5 L367.2,1176.5 L368.9,1179.5 L370.6,1182.4 L372.3,1185.4 L374.0,1188.3 L375.7,1191.3 L377.4,1194.3 L379.0,1197.2 L380.7,1200.2 L382.4,1203.1 L384.0,1206.0 L385.7,1209.0 L387.3,1211.9 L389.0,1214.9 L390.6,1217.8 L392.2,1220.7 L393.8,1223.7 L395.5,1226.6 L397.1,1229.5 L398.7,1232.4 L400.3,1235.4 L401.9,1238.3 L403.5,1241.2 L405.1,1244.1 L406.7,1247.0 L408.3,1250.0 L409.9,1252.9 L411.5,1255.8 L413.1,1258.7 L414.7,1261.6 L416.3,1264.5 L417.9,1267.4 L419.5,1270.3 L421.1,1273.3 L422.7,1276.2 L424.3,1279.1 L425.9,1282.0 L427.5,1284.9 L429.1,1287.8 L430.8,1290.7 L432.4,1293.6 L434.0,1296.5 L435.6,1299.4 L437.2,1302.3 L438.8,1305.2 L440.5,1308.1 L442.1,1311.0 L443.7,1313.9 L445.4,1316.8 L447.0,1319.7 L448.6,1322.6 L450.3,1325.5 L452.0,1328.4 L453.6,1331.4 L455.3,1334.3 L457.0,1337.2 L458.6,1340.1 L460.3,1343.0 L462.0,1345.9 L463.7,1348.8 L465.4,1351.7 L467.2,1354.6 L468.9,1357.5 L470.6,1360.5 L472.4,1363.4 L474.1,1366.3 L475.9,1369.2 L477.6,1372.1 L479.4,1375.1 L481.2,1378.0 L483.0,1380.9 L484.8,1383.8 L486.6,1386.8 L488.5,1389.7 L490.3,1392.6 L492.2,1395.6 L494.0,1398.5 L495.9,1401.4 L497.8,1404.4 L499.7,1407.3 L501.7,1410.2 L503.6,1413.0 L505.6,1415.9 L507.6,1418.7 L509.6,1421.5 L511.7,1424.3 L513.8,1427.0 L515.9,1429.7 L518.0,1432.4 L520.2,1435.0 L522.4,1437.6 L524.7,1440.1 L527.0,1442.6 L529.3,1445.0 L531.6,1447.3 L534.1,1449.6 L536.5,1451.9 L539.0,1454.0 L541.6,1456.1 L544.1,1458.1 L546.8,1460.0 L549.5,1461.9 L552.2,1463.6 L555.0,1465.3 L557.9,1466.9 L560.8,1468.3 L563.8,1469.7 L566.8,1471.0 L569.9,1472.2 L573.1,1473.2 L576.3,1474.1 L579.5,1474.9 L582.8,1475.5 L586.0,1476.0 L589.3,1476.3 L592.5,1476.4 L595.7,1476.2 L598.8,1475.9 L602.0,1475.3 L605.0,1474.5 L608.0,1473.4 L610.9,1472.1 L613.8,1470.6 L616.6,1469.0 L619.4,1467.1 L622.1,1465.2 L624.7,1463.0 L627.3,1460.8 L629.9,1458.5 L632.3,1456.1 L634.8,1453.6 L637.2,1451.1 L639.6,1448.5 L641.9,1446.0 L644.1,1443.4 L646.4,1440.8 L648.6,1438.1 L650.7,1435.5 L652.8,1432.8 L654.9,1430.1 L656.9,1427.3 L658.9,1424.6 L660.9,1421.8 L662.8,1419.0 L664.7,1416.2 L666.5,1413.4 L668.3,1410.5 L670.1,1407.7 L671.9,1404.8 L673.6,1401.9 L675.3,1398.9 L677.0,1396.0 L678.6,1393.1 L680.2,1390.1 L681.8,1387.1 L683.3,1384.1 L684.8,1381.1 L686.3,1378.1 L687.8,1375.1 L689.3,1372.0 L690.7,1369.0 L692.1,1365.9 L693.5,1362.8 L694.9,1359.7 L696.2,1356.6 L697.5,1353.5 L698.9,1350.4 L700.1,1347.3 L701.4,1344.1 L702.7,1341.0 L703.9,1337.9 L705.2,1334.7 L706.4,1331.6 L707.6,1328.4 L708.8,1325.2 L709.9,1322.1 L711.1,1318.9 L712.3,1315.7 L713.4,1312.5 L714.6,1309.3 L715.7,1306.2 L716.8,1303.0 L718.0,1299.8 L719.1,1296.6 L720.2,1293.4 L721.3,1290.3 L722.4,1287.1 L723.5,1283.9 L724.6,1280.7 L725.7,1277.5 L726.8,1274.3 L727.9,1271.2 L729.0,1268.0 L730.1,1264.8 L731.2,1261.6 L732.3,1258.5 L733.3,1255.3 L734.4,1252.1 L735.5,1248.9 L736.6,1245.8 L737.7,1242.6 L738.8,1239.4 L739.9,1236.3 L741.0,1233.1 L742.2,1230.0 L743.3,1226.8 L744.4,1223.6 L745.5,1220.5 L746.7,1217.3 L747.8,1214.2 L748.9,1211.0 L750.1,1207.9 L751.2,1204.7 L752.4,1201.6 L753.6,1198.4 L754.8,1195.3 L756.0,1192.2 L757.2,1189.0 L758.4,1185.9 L759.6,1182.8 L760.8,1179.6 L762.1,1176.5 L763.3,1173.4 L764.6,1170.3 L765.9,1167.2 L767.2,1164.0 L768.5,1160.9 L769.8,1157.8 L771.1,1154.7 L772.4,1151.6 L773.7,1148.5 L775.0,1145.4 L776.3,1142.3 L777.6,1139.1 L778.9,1136.0 L780.2,1132.9 L781.5,1129.8 L782.7,1126.7 L784.0,1123.5 L785.3,1120.4 L786.5,1117.3 L787.8,1114.1 L789.0,1111.0 L790.2,1107.9 L791.4,1104.7 L792.6,1101.6 L793.8,1098.4 L794.9,1095.2 L796.1,1092.1 L797.2,1088.9 L798.3,1085.7 L799.3,1082.5 L800.4,1079.3 L801.4,1076.1 L802.3,1072.9 L803.3,1069.7 L804.2,1066.5 L805.1,1063.2 L806.0,1060.0 L806.8,1056.7 L807.6,1053.5 L808.4,1050.2 L809.2,1046.9 L810.0,1043.6 L810.8,1040.4 L811.5,1037.1 L812.3,1033.8 L813.0,1030.5 L813.8,1027.3 L814.6,1024.0 L815.4,1020.7 L816.1,1017.5 L817.0,1014.2 L817.8,1010.9 L818.6,1007.7 L819.5,1004.5 L820.4,1001.2 L821.4,998.0 L822.3,994.8 L823.4,991.6 L824.4,988.4 L825.5,985.2 L826.6,982.1 L827.7,978.9 L828.9,975.8 L830.1,972.6 L831.3,969.5 L832.6,966.4 L833.9,963.3 L835.2,960.2 L836.5,957.1 L837.9,954.0 L839.3,950.9 L840.7,947.8 L842.1,944.8 L843.6,941.7 L845.0,938.7 L846.5,935.7 L848.0,932.6 L849.5,929.6 L851.1,926.6 L852.6,923.6 L854.2,920.6 L855.7,917.6 L857.3,914.6 L858.9,911.6 L860.5,908.6 L862.1,905.7 L863.7,902.7 L865.3,899.7 L867.0,896.8 L868.6,893.8 L870.2,890.9 L871.9,888.0 L873.6,885.0 L875.3,882.1 L876.9,879.2 L878.7,876.3 L880.4,873.4 L882.1,870.5 L883.8,867.7 L885.6,864.8 L887.4,861.9 L889.2,859.1 L891.0,856.3 L892.8,853.4 L894.6,850.6 L896.5,847.8 L898.3,845.0 L900.2,842.3 L902.1,839.5 L904.1,836.8 L906.0,834.0 L908.0,831.3 L910.0,828.6 L912.0,825.9 L914.0,823.2 L916.1,820.6 L918.1,817.9 L920.2,815.3 L922.4,812.7 L924.5,810.1 L926.7,807.5 L928.9,804.9 L931.1,802.4 L933.4,799.9 L935.6,797.4 L937.9,794.9 L940.3,792.5 L942.6,790.0 L945.0,787.6 L947.4,785.3 L949.8,782.9 L952.3,780.6 L954.7,778.3 L957.3,776.1 L959.8,773.9 L962.4,771.7 L965.0,769.6 L967.6,767.5 L970.2,765.4 L972.9,763.4 L975.6,761.4 L978.3,759.5 L981.1,757.6 L983.9,755.7 L986.7,753.9 L989.5,752.2 L992.4,750.5 L995.3,748.8 L998.2,747.2 L1001.2,745.7 L1004.2,744.2 L1007.2,742.7 L1010.2,741.3 L1013.3,740.0 L1016.4,738.7 L1019.5,737.5 L1022.7,736.3 L1025.8,735.2 L1029.0,734.1 L1032.2,733.1 L1035.5,732.1 L1038.7,731.2 L1042.0,730.3 L1045.2,729.5 L1048.5,728.7 L1051.8,728.0 L1055.2,727.4 L1058.5,726.8 L1061.8,726.2 L1065.2,725.7 L1068.6,725.3 L1071.9,724.9 L1075.3,724.6 L1078.7,724.3 L1082.1,724.1 L1085.5,723.9 L1088.8,723.8 L1092.2,723.7 L1095.6,723.7 L1099.0,723.8 L1102.4,724.0 L1105.7,724.2 L1109.0,724.5 L1112.4,725.0 L1115.6,725.5 L1118.9,726.1 L1122.1,726.8 L1125.3,727.6 L1128.5,728.5 L1131.6,729.5 L1134.7,730.6 L1137.8,731.8 L1140.9,733.1 L1143.9,734.4 L1146.9,735.8 L1149.9,737.3 L1152.8,738.9 L1155.8,740.5 L1158.7,742.1 L1161.6,743.8 L1164.5,745.5 L1167.3,747.3 L1170.1,749.1 L1173.0,750.9 L1175.8,752.8 L1178.6,754.7 L1181.3,756.6 L1184.1,758.6 L1186.8,760.6 L1189.5,762.6 L1192.2,764.7 L1194.9,766.8 L1197.5,768.9 L1200.2,771.0 L1202.8,773.2 L1205.4,775.4 L1207.9,777.6 L1210.5,779.9 L1213.1,782.1 L1215.6,784.4 L1218.1,786.7 L1220.6,789.0 L1223.0,791.4 L1225.5,793.7 L1227.9,796.1 L1230.3,798.5 L1232.7,800.9 L1235.1,803.3 L1237.4,805.8 L1239.8,808.2 L1242.1,810.7 L1244.4,813.2 L1246.7,815.6 L1248.9,818.1 L1251.2,820.6 L1253.4,823.2 L1255.6,825.7 L1257.8,828.2 L1260.0,830.8 L1262.1,833.3 L1264.3,835.9 L1266.4,838.4 L1268.5,841.0 L1270.6,843.6 L1272.7,846.2 L1274.8,848.8 L1276.9,851.4 L1279.0,854.0 L1281.0,856.6 L1283.0,859.3 L1285.1,861.9 L1287.1,864.5 L1289.1,867.2 L1291.2,869.8 L1293.2,872.5 L1295.2,875.2 L1297.2,877.8 L1299.2,880.5 L1301.1,883.2 L1303.1,885.8 L1305.1,888.5 L1307.1,891.2 L1309.1,893.9 L1311.1,896.6 L1313.0,899.2 L1315.0,901.9 L1317.0,904.6 L1319.0,907.3 L1321.0,910.0 L1323.0,912.7 L1325.0,915.4 L1326.9,918.1 L1328.9,920.8 L1330.9,923.5 L1333.0,926.2 L1335.0,928.9 L1337.0,931.6 L1339.0,934.3 L1341.1,937.0 L1343.1,939.7 L1345.2,942.4 L1347.2,945.0 L1349.3,947.7 L1351.4,950.4 L1353.5,953.1 L1355.6,955.8 L1357.7,958.4 L1359.8,961.1 L1362.0,963.8 L1364.1,966.4 L1366.3,969.1 L1368.5,971.7 L1370.7,974.4 L1372.9,977.0 L1375.2,979.6 L1377.4,982.2 L1379.7,984.8 L1382.0,987.4 L1384.3,990.0 L1386.6,992.5 L1389.0,995.1 L1391.3,997.6 L1393.7,1000.0 L1396.1,1002.5 L1398.6,1004.9 L1401.0,1007.3 L1403.5,1009.7 L1406.0,1012.1 L1408.5,1014.4 L1411.0,1016.6 L1413.6,1018.9 L1416.2,1021.1 L1418.8,1023.2 L1421.4,1025.3 L1424.1,1027.4 L1426.7,1029.4 L1429.5,1031.4 L1432.2,1033.3 L1434.9,1035.2 L1437.7,1037.0 L1440.5,1038.8 L1443.4,1040.5 L1446.3,1042.2 L1449.2,1043.8 L1452.1,1045.3 L1455.0,1046.8 L1458.0,1048.2 L1461.0,1049.6 L1464.1,1050.9 L1467.1,1052.1 L1470.2,1053.3 L1473.3,1054.4 L1476.4,1055.5 L1479.6,1056.6 L1482.7,1057.5 L1485.9,1058.5 L1489.1,1059.4 L1492.3,1060.2 L1495.6,1061.0 L1498.8,1061.8 L1502.1,1062.5 L1505.3,1063.2 L1508.6,1063.8 L1511.9,1064.4 L1515.2,1064.9 L1518.5,1065.5 L1521.8,1066.0 L1525.1,1066.4 L1528.4,1066.9 L1531.8,1067.3 L1535.1,1067.6 L1538.4,1068.0 L1541.8,1068.3 L1545.1,1068.6 L1548.4,1068.8 L1551.8,1069.1 L1555.1,1069.3 L1558.5,1069.5 L1561.8,1069.6 L1565.2,1069.8 L1568.5,1069.9 L1571.9,1070.0 L1575.2,1070.1 L1578.6,1070.1 L1582.0,1070.2 L1585.3,1070.2 L1588.7,1070.2 L1592.1,1070.2 L1595.4,1070.2 L1598.8,1070.2 L1602.2,1070.1 L1605.6,1070.0 L1608.9,1070.0 L1612.3,1069.9 L1615.7,1069.8 L1619.1,1069.7 L1622.5,1069.5 L1625.8,1069.4 L1629.2,1069.3 L1632.6,1069.1 L1636.0,1069.0 L1639.4,1068.8 L1642.8,1068.7 L1646.2,1068.5 L1649.5,1068.3 L1652.9,1068.2 L1656.3,1068.0 L1659.7,1067.8 L1663.1,1067.6 L1666.5,1067.5 L1669.9,1067.3 L1673.2,1067.1 L1676.6,1066.9 L1680.0,1066.8 L1683.4,1066.6 L1686.8,1066.4 L1690.2,1066.3 L1693.5,1066.1 L1696.9,1066.0 L1700.3,1065.9 L1703.7,1065.7 L1707.1,1065.6 L1710.4,1065.5 L1713.8,1065.4 L1717.2,1065.3 L1720.6,1065.2 L1724.0,1065.1 L1727.3,1065.1 L1730.7,1065.0 L1734.1,1064.9 L1737.4,1064.9 L1740.8,1064.8 L1744.2,1064.8 L1747.6,1064.8 L1750.9,1064.7 L1754.3,1064.7 L1757.7,1064.7 L1761.0,1064.7 L1764.4,1064.7 L1767.8,1064.7 L1771.1,1064.7 L1774.5,1064.7 L1777.9,1064.7 L1781.2,1064.7 L1784.6,1064.7 L1787.9,1064.7 L1791.3,1064.8 L1794.7,1064.8 L1798.0,1064.8 L1801.4,1064.8 L1804.8,1064.9 L1808.1,1064.9 L1811.5,1065.0 L1814.8,1065.0 L1818.2,1065.1 L1821.6,1065.1 L1824.9,1065.1 L1828.3,1065.2 L1831.6,1065.3 L1835.0,1065.3 L1838.4,1065.4 L1841.7,1065.4 L1845.1,1065.5 L1848.4,1065.5 L1851.8,1065.6 L1855.2,1065.6 L1858.5,1065.7 L1861.9,1065.8 L1865.2,1065.8 L1868.6,1065.9 L1872.0,1065.9 L1875.3,1066.0 L1878.7,1066.0 L1882.0,1066.1 L1885.4,1066.1 L1888.8,1066.2 L1892.1,1066.2 L1895.5,1066.2 L1898.8,1066.3 L1902.2,1066.3 L1905.6,1066.4 L1908.9,1066.4 L1912.3,1066.4 L1915.7,1066.4 L1919.0,1066.5 L1922.4,1066.5 L1925.7,1066.5 L1929.1,1066.5 L1932.5,1066.6 L1935.8,1066.6 L1939.2,1066.6 L1942.6,1066.6 L1945.9,1066.6 L1949.3,1066.6 L1952.7,1066.6 L1956.0,1066.6 L1959.4,1066.6 L1962.8,1066.6 L1966.1,1066.6 L1969.5,1066.6 L1972.9,1066.6 L1976.2,1066.6 L1979.6,1066.6 L1983.0,1066.6 L1986.3,1066.6 L1989.7,1066.6 L1993.1,1066.6 L1996.5,1066.6 L1999.8,1066.5 L2003.2,1066.5 L2006.6,1066.5 L2009.9,1066.5 L2013.3,1066.5 L2016.7,1066.5 L2020.0,1066.4 L2023.4,1066.4 L2026.8,1066.4 L2030.1,1066.4 L2033.5,1066.4 L2036.9,1066.4 L2040.3,1066.3 L2043.6,1066.3 L2047.0,1066.3 L2050.4,1066.3 L2053.7,1066.3 L2057.1,1066.2 L2060.5,1066.2 L2063.9,1066.2 L2067.2,1066.2 L2070.6,1066.2 L2074.0,1066.2 L2077.3,1066.1 L2080.7,1066.1 L2084.1,1066.1 L2087.4,1066.1 L2090.8,1066.1 L2094.2,1066.1 L2097.6,1066.1 L2100.9,1066.1 L2104.3,1066.0 L2107.7,1066.0 L2111.0,1066.0 L2114.4,1066.0 L2117.8,1066.0 L2121.2,1066.0 L2124.5,1066.0 L2127.9,1066.0 L2131.3,1066.0 L2134.6,1066.0 L2138.0,1066.0 L2141.4,1066.0 L2144.7,1066.0 L2148.1,1066.0 L2151.5,1066.0 L2154.8,1066.1 L2158.2,1066.1 L2161.6,1066.1 L2165.0,1066.1 L2168.3,1066.1 L2171.7,1066.1 L2175.1,1066.2 L2178.4,1066.2 L2181.8,1066.2 L2185.2,1066.3 L2188.5,1066.3 L2191.9,1066.3 L2195.3,1066.4 L2198.6,1066.4 L2202.0,1066.5 L2205.4,1066.5 L2208.7,1066.6 L2212.1,1066.6 L2215.5,1066.7 L2218.8,1066.7 L2222.2,1066.8 L2225.5,1066.9 L2228.9,1066.9 L2232.3,1067.0 L2235.6,1067.1 L2239.0,1067.2 L2242.4,1067.2 L2245.7,1067.3 L2249.1,1067.4 L2252.4,1067.5 L2255.8,1067.6 L2259.2,1067.7 L2262.5,1067.8 L2265.9,1067.9 L2269.2,1068.0 L2272.6,1068.1 L2276.0,1068.3" stroke="#000" stroke-width="8.5"/>
<path d="M355.0,1087.1 L356.5,1090.2 L358.0,1093.3 L359.5,1096.3 L361.1,1099.4 L362.6,1102.5 L364.1,1105.6 L365.6,1108.6 L367.2,1111.7 L368.7,1114.7 L370.2,1117.8 L371.7,1120.8 L373.3,1123.9 L374.8,1126.9 L376.3,1129.9 L377.9,1133.0 L379.4,1136.0 L380.9,1139.0 L382.5,1142.0 L384.0,1145.1 L385.6,1148.1 L387.1,1151.1 L388.6,1154.1 L390.2,1157.1 L391.7,1160.1 L393.3,1163.1 L394.8,1166.1 L396.3,1169.1 L397.9,1172.1 L399.4,1175.1 L401.0,1178.0 L402.5,1181.0 L404.1,1184.0 L405.6,1187.0 L407.2,1190.0 L408.7,1193.0 L410.3,1195.9 L411.8,1198.9 L413.4,1201.9 L414.9,1204.9 L416.5,1207.8 L418.0,1210.8 L419.6,1213.8 L421.1,1216.7 L422.7,1219.7 L424.2,1222.7 L425.8,1225.6 L427.3,1228.6 L428.9,1231.6 L430.4,1234.6 L432.0,1237.5 L433.6,1240.5 L435.1,1243.5 L436.7,1246.4 L438.2,1249.4 L439.8,1252.4 L441.3,1255.3 L442.9,1258.3 L444.4,1261.3 L446.0,1264.3 L447.6,1267.2 L449.1,1270.2 L450.7,1273.2 L452.2,1276.2 L453.8,1279.2 L455.3,1282.1 L456.9,1285.1 L458.5,1288.1 L460.0,1291.1 L461.6,1294.1 L463.1,1297.1 L464.7,1300.1 L466.2,1303.1 L467.8,1306.1 L469.3,1309.1 L470.9,1312.1 L472.5,1315.1 L474.0,1318.1 L475.6,1321.1 L477.1,1324.2 L478.7,1327.2 L480.2,1330.2 L481.8,1333.2 L483.3,1336.3 L484.9,1339.3 L486.4,1342.3 L488.0,1345.4 L489.5,1348.4 L491.1,1351.5 L492.6,1354.6 L494.2,1357.6 L495.7,1360.7 L497.3,1363.7 L498.9,1366.8 L500.5,1369.8 L502.0,1372.9 L503.7,1375.9 L505.3,1378.9 L506.9,1381.9 L508.6,1384.9 L510.3,1387.9 L512.0,1390.8 L513.8,1393.7 L515.5,1396.6 L517.3,1399.5 L519.2,1402.3 L521.1,1405.1 L523.0,1407.9 L525.0,1410.6 L527.0,1413.3 L529.0,1415.9 L531.2,1418.5 L533.3,1421.1 L535.5,1423.6 L537.8,1426.0 L540.1,1428.4 L542.5,1430.8 L545.0,1433.1 L547.5,1435.3 L550.1,1437.5 L552.7,1439.6 L555.5,1441.6 L558.3,1443.6 L561.1,1445.5 L564.1,1447.3 L567.1,1449.1 L570.2,1450.7 L573.4,1452.3 L576.6,1453.7 L579.8,1454.9 L583.1,1456.1 L586.4,1457.0 L589.6,1457.7 L592.9,1458.3 L596.1,1458.6 L599.3,1458.7 L602.4,1458.5 L605.5,1458.1 L608.5,1457.4 L611.5,1456.5 L614.4,1455.5 L617.3,1454.2 L620.2,1452.8 L623.0,1451.1 L625.7,1449.4 L628.4,1447.5 L631.1,1445.5 L633.7,1443.3 L636.2,1441.1 L638.7,1438.7 L641.2,1436.3 L643.6,1433.9 L646.0,1431.4 L648.3,1428.8 L650.6,1426.2 L652.8,1423.6 L655.0,1421.0 L657.2,1418.3 L659.3,1415.6 L661.3,1412.9 L663.4,1410.2 L665.3,1407.4 L667.3,1404.7 L669.2,1401.9 L671.1,1399.0 L672.9,1396.2 L674.7,1393.4 L676.4,1390.5 L678.2,1387.6 L679.9,1384.7 L681.5,1381.7 L683.2,1378.8 L684.8,1375.8 L686.3,1372.8 L687.9,1369.8 L689.4,1366.8 L690.9,1363.8 L692.4,1360.7 L693.8,1357.7 L695.3,1354.6 L696.7,1351.5 L698.0,1348.4 L699.4,1345.3 L700.7,1342.2 L702.1,1339.1 L703.4,1336.0 L704.7,1332.8 L705.9,1329.7 L707.2,1326.5 L708.4,1323.3 L709.7,1320.2 L710.9,1317.0 L712.1,1313.8 L713.3,1310.6 L714.5,1307.4 L715.6,1304.2 L716.8,1301.0 L718.0,1297.8 L719.1,1294.6 L720.3,1291.4 L721.5,1288.2 L722.6,1285.0 L723.7,1281.7 L724.9,1278.5 L726.0,1275.3 L727.2,1272.1 L728.3,1268.9 L729.5,1265.7 L730.6,1262.5 L731.8,1259.3 L733.0,1256.1 L734.1,1252.9 L735.3,1249.7 L736.5,1246.6 L737.7,1243.4 L738.9,1240.2 L740.1,1237.1 L741.3,1233.9 L742.6,1230.7 L743.8,1227.6 L745.0,1224.5 L746.3,1221.3 L747.5,1218.2 L748.8,1215.0 L750.0,1211.9 L751.3,1208.8 L752.6,1205.7 L753.8,1202.6 L755.1,1199.4 L756.4,1196.3 L757.7,1193.2 L759.0,1190.1 L760.2,1187.0 L761.5,1183.9 L762.8,1180.8 L764.1,1177.7 L765.4,1174.6 L766.7,1171.5 L768.0,1168.4 L769.3,1165.3 L770.5,1162.2 L771.8,1159.1 L773.1,1156.0 L774.4,1152.9 L775.7,1149.8 L777.0,1146.7 L778.2,1143.6 L779.5,1140.5 L780.8,1137.3 L782.1,1134.2 L783.3,1131.1 L784.6,1128.0 L785.8,1124.9 L787.1,1121.8 L788.3,1118.7 L789.5,1115.5 L790.8,1112.4 L792.0,1109.3 L793.2,1106.1 L794.4,1103.0 L795.6,1099.8 L796.8,1096.7 L798.0,1093.5 L799.2,1090.4 L800.4,1087.2 L801.5,1084.0 L802.7,1080.9 L803.8,1077.7 L804.9,1074.5 L806.0,1071.3 L807.2,1068.1 L808.2,1064.9 L809.3,1061.7 L810.4,1058.5 L811.5,1055.2 L812.6,1052.0 L813.6,1048.8 L814.7,1045.6 L815.8,1042.3 L816.8,1039.1 L817.9,1035.9 L819.0,1032.7 L820.1,1029.5 L821.2,1026.3 L822.4,1023.1 L823.5,1019.9 L824.7,1016.7 L825.9,1013.6 L827.1,1010.4 L828.4,1007.3 L829.7,1004.1 L831.0,1001.0 L832.3,997.9 L833.7,994.9 L835.1,991.8 L836.5,988.8 L838.0,985.8 L839.5,982.8 L841.0,979.8 L842.6,976.8 L844.1,973.8 L845.7,970.8 L847.3,967.8 L848.9,964.9 L850.5,961.9 L852.1,958.9 L853.7,956.0 L855.2,953.0 L856.8,950.0 L858.4,947.0 L860.0,944.0 L861.5,941.0 L863.0,938.0 L864.5,935.0 L866.0,931.9 L867.5,928.9 L868.9,925.8 L870.3,922.7 L871.6,919.6 L872.9,916.4 L874.2,913.2 L875.4,910.1 L876.6,906.9 L877.8,903.6 L879.0,900.4 L880.2,897.2 L881.4,894.0 L882.5,890.8 L883.7,887.6 L884.9,884.4 L886.2,881.2 L887.4,878.1 L888.7,875.0 L890.1,871.9 L891.5,868.8 L892.9,865.8 L894.4,862.9 L896.0,859.9 L897.7,857.1 L899.4,854.3 L901.2,851.5 L903.1,848.8 L905.0,846.1 L907.0,843.4 L909.0,840.8 L911.1,838.3 L913.3,835.7 L915.5,833.2 L917.7,830.7 L920.0,828.2 L922.3,825.8 L924.6,823.3 L926.9,820.9 L929.3,818.5 L931.7,816.1 L934.1,813.7 L936.5,811.3 L938.9,808.8 L941.3,806.4 L943.8,804.0 L946.2,801.6 L948.6,799.2 L951.1,796.9 L953.6,794.5 L956.1,792.1 L958.6,789.8 L961.1,787.5 L963.6,785.2 L966.2,782.9 L968.8,780.7 L971.3,778.4 L974.0,776.2 L976.6,774.1 L979.2,772.0 L981.9,769.9 L984.6,767.8 L987.3,765.8 L990.0,763.8 L992.8,761.9 L995.5,760.0 L998.4,758.2 L1001.2,756.4 L1004.0,754.7 L1006.9,753.0 L1009.8,751.4 L1012.8,749.9 L1015.8,748.4 L1018.8,747.0 L1021.8,745.6 L1024.9,744.3 L1028.0,743.1 L1031.1,741.9 L1034.3,740.8 L1037.4,739.8 L1040.6,738.8 L1043.9,737.9 L1047.1,737.1 L1050.4,736.3 L1053.7,735.6 L1057.0,735.0 L1060.3,734.4 L1063.6,733.9 L1067.0,733.4 L1070.3,733.0 L1073.7,732.6 L1077.1,732.3 L1080.5,732.1 L1083.9,731.9 L1087.3,731.8 L1090.7,731.7 L1094.1,731.7 L1097.5,731.8 L1100.9,731.9 L1104.3,732.0 L1107.7,732.3 L1111.1,732.5 L1114.4,732.9 L1117.8,733.3 L1121.1,733.8 L1124.4,734.3 L1127.7,735.0 L1131.0,735.7 L1134.2,736.6 L1137.4,737.5 L1140.6,738.6 L1143.7,739.7 L1146.8,741.0 L1149.8,742.3 L1152.8,743.8 L1155.7,745.3 L1158.7,746.9 L1161.6,748.6 L1164.4,750.3 L1167.3,752.1 L1170.1,754.0 L1172.9,755.9 L1175.7,757.8 L1178.4,759.7 L1181.2,761.7 L1183.9,763.7 L1186.7,765.7 L1189.4,767.7 L1192.1,769.8 L1194.8,771.8 L1197.5,773.8 L1200.2,775.9 L1202.9,778.0 L1205.5,780.1 L1208.2,782.2 L1210.8,784.3 L1213.4,786.5 L1216.0,788.6 L1218.6,790.8 L1221.2,793.0 L1223.8,795.2 L1226.3,797.4 L1228.9,799.6 L1231.4,801.8 L1233.9,804.1 L1236.4,806.4 L1238.8,808.7 L1241.3,811.0 L1243.7,813.3 L1246.1,815.7 L1248.5,818.1 L1250.9,820.5 L1253.2,822.9 L1255.6,825.3 L1257.9,827.8 L1260.2,830.2 L1262.4,832.7 L1264.7,835.2 L1266.9,837.8 L1269.1,840.3 L1271.3,842.9 L1273.5,845.5 L1275.6,848.1 L1277.7,850.7 L1279.9,853.3 L1282.0,856.0 L1284.1,858.6 L1286.1,861.3 L1288.2,864.0 L1290.2,866.7 L1292.3,869.4 L1294.3,872.1 L1296.3,874.8 L1298.4,877.5 L1300.4,880.2 L1302.4,883.0 L1304.4,885.7 L1306.3,888.5 L1308.3,891.2 L1310.3,894.0 L1312.3,896.8 L1314.2,899.5 L1316.2,902.3 L1318.2,905.1 L1320.1,907.8 L1322.1,910.6 L1324.1,913.4 L1326.0,916.1 L1328.0,918.9 L1330.0,921.7 L1332.0,924.4 L1334.0,927.2 L1335.9,929.9 L1337.9,932.6 L1339.9,935.4 L1341.9,938.1 L1344.0,940.8 L1346.0,943.5 L1348.0,946.2 L1350.1,948.9 L1352.1,951.6 L1354.2,954.2 L1356.3,956.9 L1358.4,959.5 L1360.5,962.1 L1362.6,964.7 L1364.8,967.3 L1366.9,969.9 L1369.1,972.4 L1371.3,975.0 L1373.5,977.5 L1375.8,980.0 L1378.0,982.5 L1380.3,984.9 L1382.6,987.4 L1384.9,989.8 L1387.3,992.2 L1389.7,994.5 L1392.1,996.9 L1394.5,999.2 L1396.9,1001.5 L1399.4,1003.8 L1401.9,1006.0 L1404.4,1008.2 L1407.0,1010.4 L1409.6,1012.5 L1412.2,1014.7 L1414.9,1016.8 L1417.6,1018.8 L1420.3,1020.8 L1423.0,1022.8 L1425.8,1024.8 L1428.6,1026.7 L1431.5,1028.6 L1434.3,1030.4 L1437.2,1032.2 L1440.1,1034.0 L1443.1,1035.7 L1446.0,1037.4 L1449.0,1039.0 L1452.0,1040.6 L1455.0,1042.1 L1458.1,1043.6 L1461.2,1045.0 L1464.3,1046.4 L1467.4,1047.7 L1470.5,1049.0 L1473.7,1050.2 L1476.8,1051.3 L1480.0,1052.4 L1483.2,1053.4 L1486.5,1054.4 L1489.7,1055.3 L1492.9,1056.2 L1496.2,1057.0 L1499.5,1057.7 L1502.8,1058.3 L1506.1,1058.9 L1509.4,1059.5 L1512.7,1060.0 L1516.0,1060.4 L1519.4,1060.8 L1522.7,1061.2 L1526.1,1061.5 L1529.4,1061.8 L1532.8,1062.1 L1536.2,1062.3 L1539.6,1062.5 L1542.9,1062.7 L1546.3,1062.9 L1549.7,1063.0 L1553.1,1063.2 L1556.5,1063.3 L1559.9,1063.4 L1563.3,1063.5 L1566.6,1063.7 L1570.0,1063.8 L1573.4,1063.9 L1576.8,1064.0 L1580.2,1064.1 L1583.6,1064.2 L1587.0,1064.3 L1590.4,1064.4 L1593.7,1064.5 L1597.1,1064.6 L1600.5,1064.7 L1603.9,1064.8 L1607.3,1064.9 L1610.7,1065.0 L1614.0,1065.1 L1617.4,1065.2 L1620.8,1065.3 L1624.2,1065.3 L1627.6,1065.4 L1631.0,1065.5 L1634.3,1065.6 L1637.7,1065.7 L1641.1,1065.7 L1644.5,1065.8 L1647.9,1065.9 L1651.2,1065.9 L1654.6,1066.0 L1658.0,1066.1 L1661.4,1066.1 L1664.8,1066.2 L1668.1,1066.3 L1671.5,1066.3 L1674.9,1066.4 L1678.3,1066.4 L1681.7,1066.5 L1685.0,1066.5 L1688.4,1066.6 L1691.8,1066.6 L1695.2,1066.7 L1698.5,1066.7 L1701.9,1066.7 L1705.3,1066.8 L1708.7,1066.8 L1712.0,1066.9 L1715.4,1066.9 L1718.8,1066.9 L1722.2,1067.0 L1725.5,1067.0 L1728.9,1067.0 L1732.3,1067.1 L1735.7,1067.1 L1739.0,1067.1 L1742.4,1067.1 L1745.8,1067.2 L1749.2,1067.2 L1752.5,1067.2 L1755.9,1067.2 L1759.3,1067.2 L1762.7,1067.3 L1766.0,1067.3 L1769.4,1067.3 L1772.8,1067.3 L1776.2,1067.3 L1779.5,1067.3 L1782.9,1067.3 L1786.3,1067.3 L1789.7,1067.4 L1793.0,1067.4 L1796.4,1067.4 L1799.8,1067.4 L1803.2,1067.4 L1806.5,1067.4 L1809.9,1067.4 L1813.3,1067.4 L1816.7,1067.4 L1820.0,1067.4 L1823.4,1067.4 L1826.8,1067.4 L1830.1,1067.4 L1833.5,1067.4 L1836.9,1067.3 L1840.3,1067.3 L1843.6,1067.3 L1847.0,1067.3 L1850.4,1067.3 L1853.8,1067.3 L1857.1,1067.3 L1860.5,1067.3 L1863.9,1067.3 L1867.3,1067.3 L1870.6,1067.2 L1874.0,1067.2 L1877.4,1067.2 L1880.8,1067.2 L1884.2,1067.2 L1887.5,1067.2 L1890.9,1067.1 L1894.3,1067.1 L1897.7,1067.1 L1901.0,1067.1 L1904.4,1067.1 L1907.8,1067.0 L1911.2,1067.0 L1914.5,1067.0 L1917.9,1067.0 L1921.3,1067.0 L1924.7,1066.9 L1928.1,1066.9 L1931.4,1066.9 L1934.8,1066.9 L1938.2,1066.9 L1941.6,1066.8 L1944.9,1066.8 L1948.3,1066.8 L1951.7,1066.8 L1955.1,1066.7 L1958.5,1066.7 L1961.8,1066.7 L1965.2,1066.7 L1968.6,1066.7 L1972.0,1066.6 L1975.4,1066.6 L1978.7,1066.6 L1982.1,1066.6 L1985.5,1066.6 L1988.9,1066.5 L1992.3,1066.5 L1995.6,1066.5 L1999.0,1066.5 L2002.4,1066.5 L2005.8,1066.5 L2009.2,1066.5 L2012.5,1066.4 L2015.9,1066.4 L2019.3,1066.4 L2022.7,1066.4 L2026.1,1066.4 L2029.5,1066.4 L2032.8,1066.4 L2036.2,1066.4 L2039.6,1066.4 L2043.0,1066.4 L2046.4,1066.4 L2049.7,1066.4 L2053.1,1066.4 L2056.5,1066.4 L2059.9,1066.4 L2063.3,1066.4 L2066.6,1066.4 L2070.0,1066.4 L2073.4,1066.4 L2076.8,1066.5 L2080.2,1066.5 L2083.5,1066.5 L2086.9,1066.5 L2090.3,1066.5 L2093.7,1066.6 L2097.1,1066.6 L2100.4,1066.6 L2103.8,1066.6 L2107.2,1066.7 L2110.6,1066.7 L2114.0,1066.7 L2117.3,1066.8 L2120.7,1066.8 L2124.1,1066.9 L2127.5,1066.9 L2130.9,1067.0 L2134.2,1067.0 L2137.6,1067.1 L2141.0,1067.1 L2144.4,1067.2 L2147.8,1067.3 L2151.1,1067.3 L2154.5,1067.4 L2157.9,1067.5 L2161.3,1067.5 L2164.6,1067.6 L2168.0,1067.7 L2171.4,1067.8 L2174.8,1067.9 L2178.1,1067.9 L2181.5,1068.0 L2184.9,1068.1 L2188.3,1068.2 L2191.7,1068.3 L2195.0,1068.4 L2198.4,1068.6 L2201.8,1068.7 L2205.2,1068.8 L2208.5,1068.9 L2211.9,1069.0 L2215.3,1069.2 L2218.7,1069.3 L2222.0,1069.4 L2225.4,1069.6 L2228.8,1069.7 L2232.1,1069.8 L2235.5,1070.0 L2238.9,1070.1 L2242.3,1070.3 L2245.6,1070.5 L2249.0,1070.6 L2252.4,1070.8 L2255.8,1071.0 L2259.1,1071.2 L2262.5,1071.3 L2265.9,1071.5 L2269.2,1071.7 L2272.6,1071.9 L2276.0,1072.1" stroke="#f00" stroke-width="8"/>
<path d="M355.0,938.7 L356.6,941.7 L358.2,944.7 L359.8,947.7 L361.4,950.7 L363.0,953.7 L364.5,956.7 L366.1,959.8 L367.6,962.8 L369.1,965.9 L370.6,968.9 L372.1,972.0 L373.6,975.0 L375.1,978.1 L376.5,981.2 L378.0,984.3 L379.4,987.4 L380.8,990.5 L382.2,993.6 L383.6,996.7 L385.0,999.8 L386.4,1002.9 L387.8,1006.1 L389.2,1009.2 L390.5,1012.3 L391.8,1015.5 L393.2,1018.6 L394.5,1021.8 L395.8,1024.9 L397.1,1028.1 L398.4,1031.3 L399.7,1034.4 L401.0,1037.6 L402.3,1040.8 L403.6,1044.0 L404.9,1047.1 L406.1,1050.3 L407.4,1053.5 L408.6,1056.7 L409.9,1059.9 L411.1,1063.1 L412.4,1066.3 L413.6,1069.5 L414.8,1072.7 L416.0,1075.9 L417.3,1079.1 L418.5,1082.3 L419.7,1085.5 L420.9,1088.7 L422.1,1091.9 L423.3,1095.2 L424.5,1098.4 L425.7,1101.6 L426.9,1104.8 L428.1,1108.0 L429.3,1111.2 L430.5,1114.4 L431.7,1117.7 L432.9,1120.9 L434.1,1124.1 L435.3,1127.3 L436.5,1130.5 L437.7,1133.7 L438.9,1136.9 L440.1,1140.2 L441.3,1143.4 L442.5,1146.6 L443.7,1149.8 L444.9,1153.0 L446.1,1156.2 L447.3,1159.4 L448.5,1162.6 L449.7,1165.8 L450.9,1169.0 L452.2,1172.2 L453.4,1175.3 L454.6,1178.5 L455.9,1181.7 L457.1,1184.9 L458.3,1188.1 L459.6,1191.2 L460.9,1194.4 L462.1,1197.6 L463.4,1200.7 L464.7,1203.9 L465.9,1207.0 L467.2,1210.2 L468.5,1213.3 L469.8,1216.5 L471.1,1219.6 L472.4,1222.7 L473.8,1225.9 L475.1,1229.0 L476.4,1232.1 L477.8,1235.2 L479.1,1238.3 L480.5,1241.4 L481.9,1244.5 L483.3,1247.6 L484.7,1250.6 L486.1,1253.7 L487.5,1256.8 L488.9,1259.9 L490.4,1262.9 L491.8,1266.0 L493.3,1269.0 L494.7,1272.1 L496.2,1275.1 L497.7,1278.2 L499.2,1281.2 L500.7,1284.3 L502.2,1287.3 L503.7,1290.3 L505.3,1293.4 L506.8,1296.4 L508.4,1299.4 L510.0,1302.5 L511.6,1305.5 L513.2,1308.5 L514.8,1311.5 L516.4,1314.5 L518.1,1317.6 L519.7,1320.6 L521.4,1323.6 L523.1,1326.6 L524.8,1329.6 L526.5,1332.7 L528.2,1335.7 L529.9,1338.7 L531.7,1341.7 L533.4,1344.7 L535.2,1347.7 L537.0,1350.8 L538.8,1353.8 L540.6,1356.8 L542.5,1359.8 L544.3,1362.8 L546.2,1365.8 L548.1,1368.8 L550.1,1371.7 L552.1,1374.6 L554.1,1377.5 L556.2,1380.3 L558.3,1383.0 L560.5,1385.6 L562.8,1388.2 L565.1,1390.6 L567.5,1393.0 L569.9,1395.2 L572.5,1397.4 L575.1,1399.4 L577.8,1401.3 L580.7,1403.0 L583.6,1404.6 L586.6,1406.0 L589.7,1407.3 L592.8,1408.4 L596.1,1409.4 L599.3,1410.1 L602.6,1410.7 L606.0,1411.2 L609.3,1411.4 L612.6,1411.5 L615.9,1411.4 L619.2,1411.0 L622.5,1410.5 L625.7,1409.8 L628.8,1408.9 L631.9,1407.8 L634.9,1406.5 L637.8,1405.0 L640.6,1403.3 L643.4,1401.4 L646.0,1399.4 L648.6,1397.2 L651.2,1394.9 L653.7,1392.4 L656.1,1389.9 L658.4,1387.3 L660.7,1384.5 L663.0,1381.7 L665.2,1378.9 L667.4,1376.0 L669.5,1373.1 L671.6,1370.2 L673.6,1367.2 L675.7,1364.3 L677.7,1361.3 L679.6,1358.4 L681.6,1355.5 L683.5,1352.6 L685.3,1349.6 L687.2,1346.7 L689.0,1343.8 L690.8,1340.8 L692.5,1337.9 L694.3,1335.0 L696.0,1332.0 L697.6,1329.1 L699.3,1326.1 L700.9,1323.2 L702.5,1320.2 L704.0,1317.3 L705.6,1314.3 L707.1,1311.3 L708.5,1308.3 L710.0,1305.3 L711.4,1302.2 L712.8,1299.2 L714.2,1296.1 L715.5,1293.1 L716.8,1290.0 L718.1,1286.9 L719.4,1283.8 L720.6,1280.6 L721.8,1277.5 L723.0,1274.3 L724.2,1271.1 L725.4,1268.0 L726.5,1264.8 L727.6,1261.6 L728.7,1258.3 L729.8,1255.1 L730.9,1251.9 L732.0,1248.6 L733.1,1245.4 L734.1,1242.1 L735.2,1238.9 L736.2,1235.6 L737.3,1232.3 L738.3,1229.1 L739.4,1225.8 L740.4,1222.5 L741.5,1219.2 L742.5,1216.0 L743.6,1212.7 L744.6,1209.4 L745.7,1206.1 L746.7,1202.9 L747.8,1199.6 L748.9,1196.3 L750.0,1193.1 L751.1,1189.8 L752.2,1186.6 L753.4,1183.4 L754.6,1180.1 L755.7,1176.9 L756.9,1173.7 L758.1,1170.5 L759.4,1167.3 L760.6,1164.1 L761.9,1160.9 L763.2,1157.8 L764.5,1154.6 L765.8,1151.4 L767.1,1148.3 L768.5,1145.1 L769.8,1142.0 L771.2,1138.9 L772.6,1135.8 L773.9,1132.6 L775.3,1129.5 L776.7,1126.4 L778.1,1123.3 L779.6,1120.2 L781.0,1117.1 L782.4,1114.0 L783.8,1110.9 L785.3,1107.8 L786.7,1104.7 L788.1,1101.6 L789.6,1098.5 L791.0,1095.4 L792.5,1092.3 L793.9,1089.2 L795.3,1086.1 L796.8,1083.0 L798.2,1079.9 L799.6,1076.8 L801.0,1073.7 L802.4,1070.6 L803.8,1067.5 L805.2,1064.4 L806.6,1061.3 L808.0,1058.1 L809.4,1055.0 L810.8,1051.9 L812.1,1048.8 L813.5,1045.6 L814.9,1042.5 L816.2,1039.4 L817.6,1036.2 L818.9,1033.1 L820.3,1030.0 L821.6,1026.8 L823.0,1023.7 L824.3,1020.6 L825.7,1017.4 L827.0,1014.3 L828.4,1011.2 L829.8,1008.0 L831.1,1004.9 L832.5,1001.8 L833.8,998.7 L835.2,995.5 L836.6,992.4 L838.0,989.3 L839.4,986.2 L840.8,983.1 L842.2,980.0 L843.6,976.9 L845.0,973.8 L846.4,970.7 L847.8,967.6 L849.3,964.5 L850.8,961.4 L852.2,958.3 L853.7,955.2 L855.2,952.2 L856.7,949.1 L858.2,946.0 L859.8,943.0 L861.3,939.9 L862.9,936.9 L864.4,933.9 L866.0,930.9 L867.6,927.8 L869.3,924.8 L870.9,921.8 L872.6,918.8 L874.3,915.9 L876.0,912.9 L877.7,909.9 L879.4,907.0 L881.2,904.0 L883.0,901.1 L884.8,898.2 L886.6,895.2 L888.5,892.3 L890.3,889.5 L892.2,886.6 L894.1,883.7 L896.1,880.9 L898.0,878.1 L900.0,875.3 L902.0,872.5 L904.1,869.8 L906.1,867.0 L908.2,864.3 L910.3,861.6 L912.4,859.0 L914.6,856.4 L916.8,853.8 L919.0,851.2 L921.2,848.6 L923.5,846.1 L925.8,843.6 L928.1,841.2 L930.4,838.8 L932.8,836.4 L935.1,834.1 L937.6,831.7 L940.0,829.5 L942.5,827.2 L944.9,825.0 L947.5,822.8 L950.0,820.6 L952.5,818.4 L955.1,816.3 L957.7,814.1 L960.3,811.9 L962.9,809.8 L965.6,807.6 L968.2,805.4 L970.9,803.3 L973.6,801.1 L976.3,798.8 L979.0,796.6 L981.7,794.4 L984.4,792.2 L987.2,789.9 L989.9,787.7 L992.7,785.5 L995.5,783.4 L998.3,781.2 L1001.1,779.1 L1004.0,777.0 L1006.9,775.0 L1009.8,773.0 L1012.7,771.1 L1015.6,769.2 L1018.6,767.4 L1021.5,765.6 L1024.5,764.0 L1027.5,762.4 L1030.6,760.9 L1033.7,759.4 L1036.7,758.1 L1039.9,756.9 L1043.0,755.7 L1046.2,754.7 L1049.4,753.8 L1052.6,753.0 L1055.8,752.3 L1059.1,751.6 L1062.4,751.1 L1065.7,750.7 L1069.0,750.4 L1072.3,750.1 L1075.6,750.0 L1079.0,749.9 L1082.4,750.0 L1085.7,750.1 L1089.1,750.3 L1092.5,750.5 L1095.8,750.9 L1099.2,751.3 L1102.6,751.8 L1106.0,752.4 L1109.3,753.1 L1112.7,753.8 L1116.1,754.6 L1119.4,755.4 L1122.8,756.3 L1126.1,757.3 L1129.4,758.4 L1132.7,759.5 L1136.0,760.6 L1139.3,761.8 L1142.6,763.1 L1145.8,764.4 L1149.0,765.8 L1152.2,767.2 L1155.4,768.6 L1158.5,770.1 L1161.6,771.7 L1164.7,773.3 L1167.7,774.9 L1170.8,776.6 L1173.7,778.3 L1176.7,780.0 L1179.6,781.8 L1182.5,783.6 L1185.4,785.4 L1188.3,787.3 L1191.1,789.2 L1193.9,791.2 L1196.6,793.2 L1199.4,795.2 L1202.1,797.2 L1204.8,799.3 L1207.4,801.4 L1210.0,803.6 L1212.6,805.8 L1215.2,808.0 L1217.8,810.2 L1220.3,812.5 L1222.8,814.8 L1225.2,817.1 L1227.7,819.4 L1230.1,821.8 L1232.5,824.2 L1234.9,826.7 L1237.2,829.1 L1239.6,831.6 L1241.9,834.1 L1244.1,836.6 L1246.4,839.2 L1248.6,841.8 L1250.8,844.3 L1253.0,847.0 L1255.2,849.6 L1257.4,852.2 L1259.5,854.9 L1261.6,857.6 L1263.8,860.3 L1265.9,863.0 L1268.0,865.7 L1270.0,868.4 L1272.1,871.2 L1274.2,873.9 L1276.2,876.7 L1278.2,879.4 L1280.3,882.2 L1282.3,885.0 L1284.3,887.7 L1286.4,890.5 L1288.4,893.3 L1290.4,896.1 L1292.4,898.9 L1294.5,901.6 L1296.5,904.4 L1298.5,907.2 L1300.5,909.9 L1302.6,912.7 L1304.6,915.4 L1306.7,918.2 L1308.7,920.9 L1310.8,923.6 L1312.9,926.3 L1315.0,929.0 L1317.1,931.7 L1319.2,934.4 L1321.3,937.0 L1323.4,939.7 L1325.6,942.3 L1327.7,945.0 L1329.9,947.6 L1332.1,950.2 L1334.2,952.8 L1336.4,955.3 L1338.7,957.9 L1340.9,960.4 L1343.1,963.0 L1345.4,965.5 L1347.6,968.0 L1349.9,970.6 L1352.2,973.1 L1354.5,975.5 L1356.8,978.0 L1359.1,980.5 L1361.5,983.0 L1363.8,985.4 L1366.2,987.8 L1368.6,990.3 L1370.9,992.7 L1373.4,995.1 L1375.8,997.5 L1378.2,999.9 L1380.6,1002.3 L1383.1,1004.6 L1385.6,1007.0 L1388.1,1009.4 L1390.6,1011.7 L1393.1,1014.0 L1395.6,1016.4 L1398.1,1018.7 L1400.7,1021.0 L1403.3,1023.3 L1405.9,1025.6 L1408.5,1027.9 L1411.1,1030.1 L1413.7,1032.4 L1416.4,1034.7 L1419.0,1036.9 L1421.7,1039.1 L1424.4,1041.4 L1427.1,1043.6 L1429.8,1045.7 L1432.6,1047.9 L1435.3,1050.0 L1438.1,1052.0 L1440.9,1054.1 L1443.8,1056.1 L1446.6,1058.0 L1449.5,1059.9 L1452.4,1061.8 L1455.3,1063.6 L1458.2,1065.3 L1461.1,1067.0 L1464.1,1068.6 L1467.1,1070.2 L1470.1,1071.7 L1473.2,1073.1 L1476.3,1074.5 L1479.4,1075.7 L1482.5,1076.9 L1485.6,1078.0 L1488.8,1079.0 L1492.0,1079.9 L1495.3,1080.7 L1498.5,1081.5 L1501.8,1082.1 L1505.1,1082.7 L1508.5,1083.1 L1511.8,1083.5 L1515.2,1083.8 L1518.6,1084.0 L1522.0,1084.2 L1525.4,1084.3 L1528.9,1084.3 L1532.3,1084.3 L1535.8,1084.3 L1539.2,1084.1 L1542.7,1084.0 L1546.1,1083.8 L1549.6,1083.6 L1553.1,1083.3 L1556.5,1083.0 L1560.0,1082.7 L1563.5,1082.3 L1566.9,1082.0 L1570.3,1081.6 L1573.8,1081.3 L1577.2,1080.9 L1580.6,1080.5 L1584.0,1080.1 L1587.4,1079.7 L1590.8,1079.3 L1594.2,1078.9 L1597.6,1078.5 L1601.0,1078.1 L1604.3,1077.7 L1607.7,1077.3 L1611.1,1076.9 L1614.5,1076.5 L1617.8,1076.1 L1621.2,1075.7 L1624.6,1075.4 L1627.9,1075.0 L1631.3,1074.7 L1634.7,1074.4 L1638.0,1074.1 L1641.4,1073.8 L1644.8,1073.5 L1648.1,1073.3 L1651.5,1073.1 L1654.9,1072.9 L1658.3,1072.7 L1661.7,1072.6 L1665.1,1072.5 L1668.5,1072.4 L1671.9,1072.4 L1675.3,1072.4 L1678.7,1072.4 L1682.1,1072.5 L1685.5,1072.6 L1689.0,1072.7 L1692.4,1072.9 L1695.9,1073.0 L1699.3,1073.2 L1702.8,1073.3 L1706.2,1073.4 L1709.7,1073.5 L1713.1,1073.5 L1716.5,1073.5 L1720.0,1073.5 L1723.4,1073.4 L1726.8,1073.3 L1730.2,1073.2 L1733.7,1073.1 L1737.1,1072.9 L1740.5,1072.7 L1743.9,1072.5 L1747.3,1072.3 L1750.7,1072.0 L1754.1,1071.8 L1757.5,1071.5 L1760.9,1071.3 L1764.3,1071.0 L1767.7,1070.7 L1771.1,1070.5 L1774.5,1070.3 L1777.9,1070.0 L1781.3,1069.8 L1784.7,1069.6 L1788.1,1069.4 L1791.5,1069.2 L1794.9,1069.1 L1798.3,1069.0 L1801.7,1068.9 L1805.1,1068.8 L1808.5,1068.8 L1811.9,1068.8 L1815.3,1068.8 L1818.7,1068.9 L1822.1,1069.0 L1825.5,1069.1 L1828.9,1069.2 L1832.3,1069.3 L1835.7,1069.5 L1839.1,1069.7 L1842.5,1069.9 L1845.9,1070.1 L1849.3,1070.3 L1852.7,1070.6 L1856.2,1070.8 L1859.6,1071.1 L1863.0,1071.4 L1866.4,1071.7 L1869.8,1072.0 L1873.2,1072.3 L1876.6,1072.6 L1880.0,1072.9 L1883.4,1073.2 L1886.8,1073.6 L1890.3,1073.9 L1893.7,1074.2 L1897.1,1074.6 L1900.5,1074.9 L1903.9,1075.2 L1907.3,1075.6 L1910.7,1075.9 L1914.1,1076.2 L1917.6,1076.5 L1921.0,1076.8 L1924.4,1077.1 L1927.8,1077.4 L1931.2,1077.7 L1934.6,1077.9 L1938.0,1078.2 L1941.5,1078.4 L1944.9,1078.6 L1948.3,1078.8 L1951.7,1079.0 L1955.1,1079.2 L1958.5,1079.4 L1962.0,1079.5 L1965.4,1079.6 L1968.8,1079.7 L1972.2,1079.7 L1975.6,1079.8 L1979.0,1079.8 L1982.4,1079.8 L1985.9,1079.8 L1989.3,1079.8 L1992.7,1079.8 L1996.1,1079.7 L1999.5,1079.6 L2002.9,1079.6 L2006.3,1079.5 L2009.8,1079.3 L2013.2,1079.2 L2016.6,1079.1 L2020.0,1078.9 L2023.4,1078.8 L2026.8,1078.6 L2030.2,1078.4 L2033.7,1078.2 L2037.1,1078.0 L2040.5,1077.8 L2043.9,1077.5 L2047.3,1077.3 L2050.7,1077.1 L2054.1,1076.8 L2057.6,1076.6 L2061.0,1076.3 L2064.4,1076.1 L2067.8,1075.8 L2071.2,1075.5 L2074.6,1075.2 L2078.0,1075.0 L2081.5,1074.7 L2084.9,1074.4 L2088.3,1074.1 L2091.7,1073.8 L2095.1,1073.5 L2098.5,1073.2 L2101.9,1072.9 L2105.3,1072.7 L2108.8,1072.4 L2112.2,1072.1 L2115.6,1071.8 L2119.0,1071.5 L2122.4,1071.3 L2125.8,1071.0 L2129.2,1070.7 L2132.6,1070.5 L2136.0,1070.2 L2139.5,1070.0 L2142.9,1069.7 L2146.3,1069.5 L2149.7,1069.3 L2153.1,1069.1 L2156.5,1068.8 L2159.9,1068.6 L2163.3,1068.5 L2166.7,1068.3 L2170.1,1068.1 L2173.6,1067.9 L2177.0,1067.8 L2180.4,1067.6 L2183.8,1067.5 L2187.2,1067.3 L2190.6,1067.2 L2194.0,1067.1 L2197.4,1067.0 L2200.8,1066.9 L2204.2,1066.8 L2207.7,1066.7 L2211.1,1066.6 L2214.5,1066.5 L2217.9,1066.4 L2221.3,1066.3 L2224.7,1066.3 L2228.1,1066.2 L2231.5,1066.2 L2235.0,1066.1 L2238.4,1066.1 L2241.8,1066.0 L2245.2,1066.0 L2248.6,1066.0 L2252.0,1066.0 L2255.5,1066.0 L2258.9,1065.9 L2262.3,1065.9 L2265.7,1065.9 L2269.2,1065.9 L2272.6,1065.9 L2276.0,1066.0" stroke="#00f" stroke-width="8"/>
<path d="M355.3,764.8 L356.8,767.9 L358.2,771.1 L359.7,774.2 L361.2,777.4 L362.6,780.5 L364.1,783.7 L365.5,786.8 L367.0,790.0 L368.4,793.1 L369.9,796.3 L371.3,799.4 L372.7,802.6 L374.1,805.7 L375.5,808.9 L376.9,812.1 L378.4,815.2 L379.7,818.4 L381.1,821.6 L382.5,824.7 L383.9,827.9 L385.3,831.1 L386.7,834.3 L388.0,837.4 L389.4,840.6 L390.7,843.8 L392.1,847.0 L393.4,850.2 L394.8,853.3 L396.1,856.5 L397.4,859.7 L398.8,862.9 L400.1,866.1 L401.4,869.3 L402.7,872.5 L404.0,875.7 L405.3,878.9 L406.6,882.1 L407.9,885.3 L409.1,888.5 L410.4,891.7 L411.7,894.9 L413.0,898.1 L414.2,901.3 L415.5,904.6 L416.7,907.8 L418.0,911.0 L419.2,914.2 L420.4,917.4 L421.7,920.7 L422.9,923.9 L424.1,927.1 L425.3,930.4 L426.5,933.6 L427.7,936.8 L428.9,940.1 L430.1,943.3 L431.3,946.5 L432.5,949.8 L433.6,953.0 L434.8,956.3 L436.0,959.5 L437.1,962.8 L438.3,966.0 L439.4,969.3 L440.5,972.5 L441.7,975.8 L442.8,979.1 L443.9,982.3 L445.1,985.6 L446.2,988.9 L447.3,992.2 L448.4,995.4 L449.5,998.7 L450.6,1002.0 L451.7,1005.3 L452.7,1008.6 L453.8,1011.8 L454.9,1015.1 L455.9,1018.4 L457.0,1021.7 L458.1,1025.0 L459.1,1028.3 L460.1,1031.6 L461.2,1034.9 L462.2,1038.2 L463.2,1041.5 L464.3,1044.9 L465.3,1048.2 L466.3,1051.5 L467.3,1054.8 L468.3,1058.1 L469.3,1061.5 L470.3,1064.8 L471.2,1068.1 L472.2,1071.5 L473.2,1074.8 L474.1,1078.1 L475.1,1081.5 L476.1,1084.8 L477.0,1088.2 L478.0,1091.5 L478.9,1094.8 L479.9,1098.2 L480.8,1101.5 L481.8,1104.9 L482.7,1108.2 L483.7,1111.5 L484.7,1114.9 L485.7,1118.2 L486.6,1121.5 L487.6,1124.8 L488.6,1128.2 L489.6,1131.5 L490.6,1134.8 L491.7,1138.1 L492.7,1141.3 L493.8,1144.6 L494.8,1147.9 L495.9,1151.1 L497.0,1154.4 L498.1,1157.6 L499.3,1160.9 L500.4,1164.1 L501.6,1167.3 L502.8,1170.5 L504.0,1173.6 L505.3,1176.8 L506.5,1180.0 L507.8,1183.1 L509.1,1186.2 L510.4,1189.4 L511.7,1192.5 L513.1,1195.6 L514.4,1198.7 L515.8,1201.8 L517.2,1204.9 L518.6,1208.0 L520.0,1211.1 L521.5,1214.2 L522.9,1217.3 L524.4,1220.4 L525.8,1223.5 L527.3,1226.6 L528.8,1229.7 L530.3,1232.8 L531.8,1235.9 L533.2,1239.0 L534.7,1242.2 L536.3,1245.3 L537.8,1248.5 L539.3,1251.6 L540.8,1254.8 L542.3,1258.0 L543.8,1261.2 L545.3,1264.4 L546.8,1267.6 L548.3,1270.9 L549.8,1274.2 L551.3,1277.5 L552.8,1280.7 L554.3,1284.0 L555.9,1287.3 L557.5,1290.5 L559.1,1293.8 L560.7,1297.0 L562.4,1300.1 L564.1,1303.2 L565.9,1306.3 L567.8,1309.2 L569.7,1312.1 L571.7,1315.0 L573.8,1317.7 L576.0,1320.3 L578.3,1322.9 L580.7,1325.3 L583.1,1327.6 L585.7,1329.8 L588.4,1331.9 L591.2,1333.8 L594.1,1335.6 L597.1,1337.2 L600.1,1338.7 L603.2,1339.9 L606.3,1341.1 L609.5,1342.0 L612.7,1342.7 L616.0,1343.3 L619.2,1343.6 L622.5,1343.7 L625.7,1343.7 L628.9,1343.3 L632.2,1342.8 L635.3,1342.1 L638.5,1341.2 L641.7,1340.1 L644.8,1338.8 L647.8,1337.4 L650.8,1335.8 L653.8,1334.1 L656.7,1332.2 L659.6,1330.2 L662.4,1328.1 L665.1,1325.8 L667.8,1323.5 L670.4,1321.1 L672.9,1318.5 L675.3,1315.9 L677.6,1313.3 L679.9,1310.5 L682.0,1307.7 L684.1,1304.9 L686.1,1302.0 L688.1,1299.1 L689.9,1296.1 L691.7,1293.1 L693.5,1290.1 L695.2,1287.0 L696.9,1284.0 L698.6,1280.9 L700.2,1277.8 L701.8,1274.6 L703.4,1271.5 L705.0,1268.4 L706.5,1265.3 L708.1,1262.2 L709.7,1259.0 L711.2,1255.9 L712.8,1252.8 L714.3,1249.7 L715.9,1246.6 L717.4,1243.4 L719.0,1240.3 L720.5,1237.2 L722.0,1234.1 L723.5,1231.0 L725.1,1227.9 L726.6,1224.7 L728.1,1221.6 L729.6,1218.5 L731.1,1215.4 L732.6,1212.3 L734.1,1209.2 L735.5,1206.0 L737.0,1202.9 L738.5,1199.8 L740.0,1196.7 L741.4,1193.6 L742.9,1190.4 L744.4,1187.3 L745.8,1184.2 L747.3,1181.1 L748.7,1177.9 L750.1,1174.8 L751.6,1171.7 L753.0,1168.6 L754.4,1165.4 L755.9,1162.3 L757.3,1159.2 L758.7,1156.0 L760.1,1152.9 L761.5,1149.8 L762.9,1146.6 L764.3,1143.5 L765.7,1140.4 L767.1,1137.2 L768.5,1134.1 L769.9,1130.9 L771.3,1127.8 L772.6,1124.6 L774.0,1121.5 L775.4,1118.3 L776.8,1115.2 L778.1,1112.0 L779.5,1108.8 L780.8,1105.7 L782.2,1102.5 L783.5,1099.3 L784.9,1096.2 L786.2,1093.0 L787.6,1089.8 L788.9,1086.6 L790.2,1083.4 L791.6,1080.3 L792.9,1077.1 L794.2,1073.9 L795.5,1070.7 L796.8,1067.5 L798.1,1064.3 L799.5,1061.1 L800.8,1057.9 L802.1,1054.6 L803.4,1051.4 L804.7,1048.2 L806.0,1045.0 L807.3,1041.8 L808.6,1038.6 L809.9,1035.4 L811.2,1032.1 L812.5,1028.9 L813.8,1025.7 L815.1,1022.5 L816.5,1019.3 L817.8,1016.1 L819.1,1012.8 L820.4,1009.6 L821.8,1006.4 L823.1,1003.2 L824.5,1000.0 L825.8,996.8 L827.2,993.6 L828.6,990.4 L829.9,987.2 L831.3,984.1 L832.7,980.9 L834.1,977.7 L835.5,974.6 L837.0,971.4 L838.4,968.2 L839.9,965.1 L841.3,962.0 L842.8,958.8 L844.3,955.7 L845.8,952.6 L847.3,949.5 L848.8,946.4 L850.4,943.3 L851.9,940.2 L853.5,937.2 L855.1,934.1 L856.7,931.0 L858.3,928.0 L860.0,925.0 L861.6,922.0 L863.3,919.0 L865.0,916.0 L866.7,913.0 L868.4,910.0 L870.2,907.1 L872.0,904.1 L873.8,901.2 L875.6,898.3 L877.4,895.4 L879.3,892.5 L881.2,889.6 L883.1,886.8 L885.0,883.9 L887.0,881.1 L889.0,878.3 L891.0,875.5 L893.0,872.7 L895.0,870.0 L897.1,867.2 L899.2,864.5 L901.3,861.8 L903.4,859.1 L905.6,856.4 L907.7,853.7 L909.9,851.1 L912.2,848.5 L914.4,845.9 L916.7,843.3 L919.0,840.7 L921.3,838.2 L923.6,835.7 L926.0,833.2 L928.4,830.7 L930.8,828.2 L933.3,825.8 L935.7,823.4 L938.2,821.0 L940.7,818.6 L943.3,816.3 L945.8,813.9 L948.4,811.6 L951.0,809.3 L953.7,807.1 L956.3,804.8 L959.0,802.6 L961.7,800.4 L964.4,798.3 L967.1,796.2 L969.9,794.0 L972.7,792.0 L975.5,789.9 L978.3,787.9 L981.1,785.9 L984.0,783.9 L986.9,782.0 L989.8,780.1 L992.7,778.2 L995.6,776.3 L998.6,774.5 L1001.6,772.7 L1004.6,771.0 L1007.6,769.2 L1010.6,767.6 L1013.6,765.9 L1016.7,764.3 L1019.8,762.8 L1022.9,761.3 L1026.0,759.9 L1029.2,758.6 L1032.4,757.3 L1035.6,756.1 L1038.8,755.0 L1042.1,753.9 L1045.4,752.9 L1048.7,752.1 L1052.1,751.3 L1055.4,750.5 L1058.8,749.9 L1062.2,749.4 L1065.6,748.9 L1069.0,748.5 L1072.5,748.2 L1075.9,748.0 L1079.4,747.8 L1082.8,747.8 L1086.3,747.8 L1089.7,747.9 L1093.2,748.1 L1096.6,748.3 L1100.0,748.7 L1103.5,749.1 L1106.9,749.6 L1110.3,750.2 L1113.7,750.8 L1117.1,751.6 L1120.4,752.4 L1123.7,753.3 L1127.0,754.2 L1130.3,755.3 L1133.6,756.4 L1136.8,757.6 L1140.0,758.8 L1143.2,760.1 L1146.4,761.5 L1149.5,763.0 L1152.6,764.4 L1155.8,766.0 L1158.8,767.6 L1161.9,769.2 L1164.9,770.9 L1168.0,772.7 L1171.0,774.4 L1173.9,776.3 L1176.9,778.1 L1179.8,780.0 L1182.8,781.9 L1185.7,783.9 L1188.5,785.9 L1191.4,787.9 L1194.3,789.9 L1197.1,791.9 L1199.9,794.0 L1202.7,796.1 L1205.4,798.2 L1208.2,800.3 L1210.9,802.4 L1213.6,804.5 L1216.3,806.7 L1219.0,808.8 L1221.6,811.0 L1224.2,813.2 L1226.8,815.5 L1229.4,817.7 L1231.9,820.0 L1234.4,822.3 L1236.9,824.7 L1239.4,827.1 L1241.8,829.5 L1244.2,831.9 L1246.5,834.4 L1248.8,836.9 L1251.1,839.4 L1253.4,842.0 L1255.6,844.6 L1257.8,847.2 L1260.0,849.8 L1262.2,852.5 L1264.3,855.2 L1266.5,857.9 L1268.6,860.6 L1270.7,863.4 L1272.7,866.1 L1274.8,868.9 L1276.9,871.7 L1278.9,874.5 L1280.9,877.3 L1282.9,880.1 L1284.9,883.0 L1287.0,885.8 L1289.0,888.6 L1291.0,891.5 L1292.9,894.3 L1294.9,897.2 L1296.9,900.0 L1298.9,902.9 L1300.9,905.7 L1302.9,908.6 L1305.0,911.4 L1307.0,914.3 L1309.0,917.1 L1311.1,919.9 L1313.1,922.7 L1315.2,925.5 L1317.3,928.2 L1319.4,931.0 L1321.5,933.8 L1323.6,936.5 L1325.7,939.2 L1327.9,941.9 L1330.1,944.6 L1332.2,947.3 L1334.4,949.9 L1336.7,952.6 L1338.9,955.2 L1341.2,957.8 L1343.4,960.4 L1345.7,963.0 L1348.0,965.5 L1350.3,968.1 L1352.7,970.6 L1355.0,973.1 L1357.4,975.6 L1359.8,978.1 L1362.2,980.6 L1364.6,983.0 L1367.1,985.4 L1369.5,987.8 L1372.0,990.2 L1374.5,992.6 L1377.0,995.0 L1379.6,997.3 L1382.1,999.6 L1384.7,1001.9 L1387.3,1004.2 L1389.9,1006.5 L1392.6,1008.7 L1395.2,1010.9 L1397.9,1013.1 L1400.6,1015.3 L1403.4,1017.5 L1406.1,1019.6 L1408.9,1021.7 L1411.7,1023.8 L1414.5,1025.9 L1417.3,1028.0 L1420.1,1030.0 L1423.0,1032.0 L1425.9,1034.0 L1428.8,1035.9 L1431.8,1037.9 L1434.7,1039.7 L1437.7,1041.6 L1440.7,1043.3 L1443.7,1045.1 L1446.8,1046.8 L1449.8,1048.4 L1452.9,1050.0 L1456.0,1051.5 L1459.1,1053.0 L1462.3,1054.4 L1465.4,1055.8 L1468.6,1057.0 L1471.8,1058.3 L1475.0,1059.4 L1478.2,1060.5 L1481.5,1061.4 L1484.8,1062.3 L1488.1,1063.2 L1491.4,1063.9 L1494.7,1064.5 L1498.0,1065.1 L1501.4,1065.6 L1504.8,1066.0 L1508.2,1066.3 L1511.6,1066.5 L1515.0,1066.7 L1518.4,1066.8 L1521.9,1066.9 L1525.3,1066.9 L1528.8,1066.9 L1532.3,1066.8 L1535.7,1066.7 L1539.2,1066.6 L1542.7,1066.4 L1546.2,1066.2 L1549.7,1066.0 L1553.2,1065.8 L1556.7,1065.6 L1560.2,1065.4 L1563.8,1065.2 L1567.3,1064.9 L1570.8,1064.7 L1574.3,1064.6 L1577.8,1064.4 L1581.3,1064.3 L1584.7,1064.2 L1588.2,1064.1 L1591.7,1064.0 L1595.2,1063.9 L1598.7,1063.9 L1602.1,1063.9 L1605.6,1063.9 L1609.1,1063.9 L1612.5,1063.9 L1616.0,1063.9 L1619.5,1064.0 L1622.9,1064.1 L1626.4,1064.1 L1629.8,1064.2 L1633.3,1064.3 L1636.7,1064.4 L1640.2,1064.6 L1643.6,1064.7 L1647.1,1064.8 L1650.5,1064.9 L1654.0,1065.1 L1657.4,1065.2 L1660.9,1065.4 L1664.3,1065.5 L1667.8,1065.7 L1671.2,1065.8 L1674.6,1066.0 L1678.1,1066.2 L1681.5,1066.3 L1685.0,1066.5 L1688.4,1066.6 L1691.9,1066.8 L1695.3,1066.9 L1698.7,1067.1 L1702.2,1067.2 L1705.6,1067.4 L1709.1,1067.5 L1712.5,1067.6 L1716.0,1067.7 L1719.4,1067.9 L1722.9,1068.0 L1726.3,1068.1 L1729.7,1068.2 L1733.2,1068.3 L1736.6,1068.4 L1740.1,1068.5 L1743.5,1068.6 L1747.0,1068.7 L1750.4,1068.8 L1753.9,1068.9 L1757.3,1069.0 L1760.8,1069.1 L1764.2,1069.2 L1767.7,1069.3 L1771.1,1069.3 L1774.6,1069.4 L1778.0,1069.5 L1781.5,1069.5 L1784.9,1069.6 L1788.4,1069.7 L1791.8,1069.7 L1795.3,1069.8 L1798.8,1069.9 L1802.2,1069.9 L1805.7,1070.0 L1809.1,1070.0 L1812.6,1070.1 L1816.0,1070.1 L1819.5,1070.1 L1822.9,1070.2 L1826.4,1070.2 L1829.9,1070.3 L1833.3,1070.3 L1836.8,1070.3 L1840.2,1070.4 L1843.7,1070.4 L1847.1,1070.4 L1850.6,1070.4 L1854.1,1070.5 L1857.5,1070.5 L1861.0,1070.5 L1864.4,1070.5 L1867.9,1070.5 L1871.3,1070.6 L1874.8,1070.6 L1878.3,1070.6 L1881.7,1070.6 L1885.2,1070.6 L1888.6,1070.6 L1892.1,1070.6 L1895.6,1070.6 L1899.0,1070.6 L1902.5,1070.6 L1905.9,1070.6 L1909.4,1070.6 L1912.9,1070.6 L1916.3,1070.6 L1919.8,1070.6 L1923.2,1070.6 L1926.7,1070.6 L1930.2,1070.6 L1933.6,1070.6 L1937.1,1070.6 L1940.5,1070.6 L1944.0,1070.6 L1947.5,1070.5 L1950.9,1070.5 L1954.4,1070.5 L1957.9,1070.5 L1961.3,1070.5 L1964.8,1070.5 L1968.2,1070.5 L1971.7,1070.5 L1975.2,1070.4 L1978.6,1070.4 L1982.1,1070.4 L1985.6,1070.4 L1989.0,1070.4 L1992.5,1070.4 L1995.9,1070.3 L1999.4,1070.3 L2002.9,1070.3 L2006.3,1070.3 L2009.8,1070.3 L2013.2,1070.3 L2016.7,1070.2 L2020.2,1070.2 L2023.6,1070.2 L2027.1,1070.2 L2030.6,1070.2 L2034.0,1070.2 L2037.5,1070.1 L2040.9,1070.1 L2044.4,1070.1 L2047.9,1070.1 L2051.3,1070.1 L2054.8,1070.1 L2058.2,1070.1 L2061.7,1070.0 L2065.2,1070.0 L2068.6,1070.0 L2072.1,1070.0 L2075.6,1070.0 L2079.0,1070.0 L2082.5,1070.0 L2085.9,1070.0 L2089.4,1070.0 L2092.9,1070.0 L2096.3,1070.0 L2099.8,1070.0 L2103.2,1070.0 L2106.7,1070.0 L2110.2,1070.0 L2113.6,1070.0 L2117.1,1070.0 L2120.5,1070.0 L2124.0,1070.0 L2127.4,1070.0 L2130.9,1070.0 L2134.4,1070.0 L2137.8,1070.0 L2141.3,1070.0 L2144.7,1070.0 L2148.2,1070.1 L2151.7,1070.1 L2155.1,1070.1 L2158.6,1070.1 L2162.0,1070.1 L2165.5,1070.2 L2168.9,1070.2 L2172.4,1070.2 L2175.8,1070.2 L2179.3,1070.3 L2182.8,1070.3 L2186.2,1070.3 L2189.7,1070.4 L2193.1,1070.4 L2196.6,1070.5 L2200.0,1070.5 L2203.5,1070.6 L2206.9,1070.6 L2210.4,1070.7 L2213.8,1070.7 L2217.3,1070.8 L2220.7,1070.8 L2224.2,1070.9 L2227.6,1070.9 L2231.1,1071.0 L2234.5,1071.1 L2238.0,1071.2 L2241.4,1071.2 L2244.9,1071.3 L2248.3,1071.4 L2251.8,1071.5 L2255.2,1071.6 L2258.7,1071.6 L2262.1,1071.7 L2265.6,1071.8 L2269.0,1071.9 L2272.5,1072.0 L2275.9,1072.1" stroke="#008080" stroke-width="8"/>
<path d="M354.8,689.3 L356.3,692.5 L357.9,695.7 L359.4,698.8 L360.9,702.0 L362.5,705.2 L364.0,708.3 L365.5,711.5 L366.9,714.7 L368.4,717.9 L369.9,721.1 L371.3,724.3 L372.8,727.5 L374.2,730.7 L375.6,733.9 L377.1,737.1 L378.5,740.3 L379.8,743.6 L381.2,746.8 L382.6,750.0 L384.0,753.2 L385.3,756.5 L386.7,759.7 L388.0,763.0 L389.3,766.2 L390.7,769.4 L392.0,772.7 L393.3,776.0 L394.6,779.2 L395.9,782.5 L397.1,785.7 L398.4,789.0 L399.7,792.3 L400.9,795.5 L402.2,798.8 L403.4,802.1 L404.6,805.4 L405.8,808.6 L407.1,811.9 L408.3,815.2 L409.5,818.5 L410.7,821.8 L411.8,825.1 L413.0,828.4 L414.2,831.7 L415.4,835.0 L416.5,838.3 L417.7,841.6 L418.8,844.9 L420.0,848.2 L421.1,851.6 L422.2,854.9 L423.3,858.2 L424.5,861.5 L425.6,864.8 L426.7,868.2 L427.8,871.5 L428.9,874.8 L429.9,878.2 L431.0,881.5 L432.1,884.8 L433.2,888.2 L434.2,891.5 L435.3,894.8 L436.4,898.2 L437.4,901.5 L438.5,904.9 L439.5,908.2 L440.5,911.6 L441.6,914.9 L442.6,918.3 L443.6,921.6 L444.7,925.0 L445.7,928.3 L446.7,931.7 L447.7,935.0 L448.7,938.4 L449.7,941.8 L450.7,945.1 L451.7,948.5 L452.7,951.8 L453.7,955.2 L454.7,958.6 L455.7,961.9 L456.7,965.3 L457.7,968.7 L458.6,972.0 L459.6,975.4 L460.6,978.8 L461.6,982.2 L462.6,985.5 L463.5,988.9 L464.5,992.3 L465.5,995.6 L466.4,999.0 L467.4,1002.4 L468.4,1005.8 L469.3,1009.1 L470.3,1012.5 L471.2,1015.9 L472.2,1019.3 L473.1,1022.6 L474.1,1026.0 L475.1,1029.4 L476.0,1032.8 L477.0,1036.1 L477.9,1039.5 L478.9,1042.9 L479.8,1046.3 L480.8,1049.7 L481.8,1053.0 L482.7,1056.4 L483.7,1059.8 L484.6,1063.2 L485.6,1066.5 L486.5,1069.9 L487.5,1073.3 L488.5,1076.7 L489.4,1080.0 L490.4,1083.4 L491.3,1086.8 L492.3,1090.1 L493.3,1093.5 L494.3,1096.9 L495.2,1100.2 L496.2,1103.6 L497.2,1107.0 L498.2,1110.3 L499.2,1113.7 L500.2,1117.1 L501.2,1120.4 L502.2,1123.8 L503.2,1127.1 L504.2,1130.5 L505.2,1133.8 L506.2,1137.2 L507.3,1140.5 L508.3,1143.9 L509.3,1147.2 L510.4,1150.5 L511.5,1153.9 L512.5,1157.2 L513.6,1160.5 L514.7,1163.8 L515.8,1167.2 L516.9,1170.5 L518.0,1173.8 L519.1,1177.1 L520.2,1180.4 L521.4,1183.7 L522.5,1187.0 L523.7,1190.3 L524.9,1193.6 L526.1,1196.9 L527.3,1200.1 L528.5,1203.4 L529.7,1206.7 L530.9,1210.0 L532.2,1213.2 L533.4,1216.5 L534.7,1219.7 L536.0,1223.0 L537.3,1226.2 L538.6,1229.4 L539.9,1232.7 L541.3,1235.9 L542.6,1239.1 L544.0,1242.3 L545.4,1245.5 L546.8,1248.7 L548.2,1251.9 L549.7,1255.1 L551.1,1258.3 L552.6,1261.4 L554.1,1264.6 L555.6,1267.7 L557.1,1270.9 L558.7,1274.0 L560.2,1277.2 L561.8,1280.3 L563.4,1283.4 L565.1,1286.6 L566.7,1289.7 L568.4,1292.8 L570.1,1295.9 L571.9,1299.0 L573.6,1302.1 L575.4,1305.2 L577.3,1308.3 L579.1,1311.5 L581.0,1314.6 L583.0,1317.7 L585.0,1320.7 L587.0,1323.8 L589.1,1326.8 L591.3,1329.7 L593.5,1332.5 L595.7,1335.2 L598.1,1337.8 L600.5,1340.3 L603.0,1342.6 L605.5,1344.7 L608.2,1346.7 L610.9,1348.5 L613.7,1350.1 L616.6,1351.4 L619.6,1352.6 L622.6,1353.5 L625.7,1354.2 L628.9,1354.6 L632.1,1354.8 L635.3,1354.7 L638.5,1354.5 L641.8,1354.0 L645.1,1353.2 L648.3,1352.3 L651.6,1351.2 L654.8,1349.9 L657.9,1348.4 L661.0,1346.7 L664.1,1344.9 L667.1,1342.9 L670.1,1340.8 L672.9,1338.6 L675.7,1336.3 L678.4,1334.0 L681.1,1331.5 L683.6,1328.9 L686.1,1326.3 L688.5,1323.6 L690.8,1320.8 L693.1,1318.0 L695.3,1315.1 L697.4,1312.2 L699.5,1309.2 L701.5,1306.1 L703.4,1303.1 L705.2,1300.0 L707.0,1296.9 L708.8,1293.8 L710.4,1290.6 L712.1,1287.5 L713.6,1284.3 L715.1,1281.1 L716.6,1277.9 L718.0,1274.8 L719.4,1271.6 L720.8,1268.4 L722.2,1265.2 L723.5,1262.0 L724.8,1258.8 L726.2,1255.6 L727.5,1252.4 L728.8,1249.2 L730.2,1246.0 L731.5,1242.8 L732.9,1239.6 L734.3,1236.5 L735.6,1233.3 L737.0,1230.1 L738.4,1226.9 L739.9,1223.7 L741.3,1220.6 L742.7,1217.4 L744.1,1214.2 L745.6,1211.0 L747.0,1207.9 L748.5,1204.7 L749.9,1201.5 L751.4,1198.3 L752.9,1195.2 L754.4,1192.0 L755.8,1188.8 L757.3,1185.7 L758.8,1182.5 L760.3,1179.3 L761.8,1176.1 L763.3,1173.0 L764.8,1169.8 L766.3,1166.6 L767.7,1163.5 L769.2,1160.3 L770.7,1157.1 L772.2,1153.9 L773.7,1150.7 L775.2,1147.6 L776.7,1144.4 L778.2,1141.2 L779.7,1138.0 L781.1,1134.8 L782.6,1131.6 L784.1,1128.4 L785.6,1125.2 L787.0,1122.0 L788.5,1118.8 L789.9,1115.6 L791.4,1112.4 L792.8,1109.2 L794.2,1106.0 L795.7,1102.7 L797.1,1099.5 L798.5,1096.3 L799.9,1093.1 L801.4,1089.9 L802.8,1086.6 L804.2,1083.4 L805.6,1080.2 L807.0,1077.0 L808.4,1073.7 L809.8,1070.5 L811.2,1067.3 L812.7,1064.1 L814.1,1060.8 L815.5,1057.6 L816.9,1054.4 L818.3,1051.2 L819.8,1048.0 L821.2,1044.8 L822.6,1041.5 L824.1,1038.3 L825.5,1035.1 L826.9,1031.9 L828.4,1028.7 L829.9,1025.5 L831.3,1022.4 L832.8,1019.2 L834.3,1016.0 L835.8,1012.8 L837.3,1009.7 L838.8,1006.5 L840.3,1003.3 L841.8,1000.2 L843.4,997.0 L844.9,993.9 L846.5,990.8 L848.0,987.6 L849.6,984.5 L851.2,981.4 L852.8,978.3 L854.5,975.2 L856.1,972.1 L857.7,969.1 L859.4,966.0 L861.1,962.9 L862.8,959.9 L864.5,956.8 L866.2,953.8 L868.0,950.8 L869.7,947.8 L871.5,944.8 L873.3,941.8 L875.1,938.8 L877.0,935.8 L878.8,932.9 L880.7,929.9 L882.6,927.0 L884.5,924.1 L886.5,921.2 L888.4,918.3 L890.4,915.4 L892.4,912.6 L894.4,909.7 L896.5,906.9 L898.6,904.0 L900.7,901.2 L902.8,898.4 L905.0,895.7 L907.2,892.9 L909.4,890.2 L911.6,887.5 L913.9,884.9 L916.2,882.2 L918.6,879.6 L921.0,877.1 L923.4,874.5 L925.9,872.0 L928.4,869.6 L930.9,867.1 L933.4,864.7 L936.0,862.3 L938.6,859.9 L941.2,857.6 L943.8,855.3 L946.5,853.0 L949.2,850.7 L951.9,848.5 L954.6,846.2 L957.4,844.1 L960.2,841.9 L963.0,839.8 L965.8,837.7 L968.6,835.7 L971.5,833.7 L974.4,831.7 L977.4,829.8 L980.3,827.9 L983.3,826.1 L986.3,824.3 L989.4,822.6 L992.4,820.9 L995.5,819.3 L998.6,817.8 L1001.8,816.2 L1005.0,814.8 L1008.2,813.4 L1011.4,812.1 L1014.7,810.8 L1018.0,809.6 L1021.3,808.4 L1024.6,807.4 L1028.0,806.3 L1031.4,805.3 L1034.7,804.4 L1038.1,803.6 L1041.6,802.8 L1045.0,802.1 L1048.4,801.4 L1051.9,800.8 L1055.4,800.2 L1058.8,799.7 L1062.3,799.3 L1065.8,799.0 L1069.3,798.7 L1072.8,798.4 L1076.3,798.2 L1079.8,798.1 L1083.3,798.1 L1086.8,798.1 L1090.3,798.2 L1093.8,798.3 L1097.2,798.5 L1100.7,798.8 L1104.2,799.2 L1107.7,799.6 L1111.1,800.0 L1114.6,800.5 L1118.0,801.1 L1121.4,801.7 L1124.9,802.4 L1128.3,803.1 L1131.7,803.9 L1135.1,804.7 L1138.5,805.6 L1141.9,806.5 L1145.3,807.5 L1148.7,808.4 L1152.1,809.5 L1155.5,810.5 L1158.8,811.6 L1162.2,812.7 L1165.6,813.8 L1168.9,814.9 L1172.3,816.1 L1175.6,817.3 L1178.9,818.6 L1182.2,819.9 L1185.5,821.2 L1188.7,822.6 L1191.9,824.1 L1195.1,825.6 L1198.2,827.2 L1201.3,828.8 L1204.3,830.5 L1207.3,832.3 L1210.2,834.1 L1213.1,836.1 L1215.9,838.0 L1218.7,840.1 L1221.5,842.2 L1224.2,844.3 L1226.8,846.5 L1229.4,848.8 L1232.0,851.1 L1234.6,853.5 L1237.1,855.9 L1239.6,858.3 L1242.0,860.8 L1244.4,863.3 L1246.8,865.9 L1249.2,868.5 L1251.5,871.1 L1253.8,873.7 L1256.1,876.4 L1258.4,879.1 L1260.7,881.8 L1262.9,884.5 L1265.1,887.3 L1267.3,890.0 L1269.5,892.8 L1271.7,895.5 L1273.9,898.3 L1276.1,901.1 L1278.2,903.9 L1280.4,906.7 L1282.5,909.4 L1284.7,912.2 L1286.8,915.0 L1289.0,917.8 L1291.1,920.5 L1293.3,923.3 L1295.4,926.1 L1297.5,928.8 L1299.7,931.6 L1301.8,934.4 L1304.0,937.1 L1306.1,939.9 L1308.3,942.6 L1310.4,945.4 L1312.6,948.1 L1314.7,950.9 L1316.9,953.6 L1319.1,956.4 L1321.2,959.1 L1323.4,961.8 L1325.6,964.6 L1327.8,967.3 L1330.0,970.0 L1332.2,972.7 L1334.4,975.4 L1336.7,978.1 L1338.9,980.8 L1341.2,983.5 L1343.4,986.2 L1345.7,988.9 L1348.0,991.5 L1350.3,994.2 L1352.7,996.8 L1355.0,999.5 L1357.3,1002.1 L1359.7,1004.7 L1362.1,1007.3 L1364.5,1009.9 L1366.9,1012.4 L1369.4,1015.0 L1371.8,1017.5 L1374.3,1020.0 L1376.8,1022.5 L1379.3,1025.0 L1381.8,1027.4 L1384.4,1029.8 L1387.0,1032.2 L1389.6,1034.6 L1392.2,1037.0 L1394.8,1039.3 L1397.5,1041.6 L1400.2,1043.9 L1402.9,1046.1 L1405.7,1048.3 L1408.5,1050.5 L1411.3,1052.7 L1414.1,1054.8 L1417.0,1056.9 L1419.8,1059.0 L1422.8,1061.0 L1425.7,1062.9 L1428.6,1064.9 L1431.6,1066.8 L1434.6,1068.6 L1437.7,1070.4 L1440.7,1072.1 L1443.8,1073.8 L1446.9,1075.4 L1450.1,1077.0 L1453.2,1078.4 L1456.4,1079.9 L1459.6,1081.2 L1462.8,1082.5 L1466.0,1083.7 L1469.3,1084.8 L1472.5,1085.9 L1475.8,1086.8 L1479.1,1087.7 L1482.4,1088.5 L1485.8,1089.2 L1489.1,1089.8 L1492.5,1090.3 L1495.9,1090.7 L1499.3,1091.0 L1502.7,1091.2 L1506.1,1091.3 L1509.6,1091.4 L1513.0,1091.4 L1516.5,1091.3 L1520.0,1091.1 L1523.5,1090.9 L1527.0,1090.6 L1530.5,1090.2 L1534.0,1089.9 L1537.5,1089.4 L1541.0,1089.0 L1544.5,1088.5 L1548.1,1088.0 L1551.6,1087.4 L1555.2,1086.9 L1558.7,1086.3 L1562.3,1085.7 L1565.8,1085.1 L1569.4,1084.6 L1572.9,1084.0 L1576.5,1083.5 L1580.0,1083.0 L1583.6,1082.5 L1587.1,1082.0 L1590.7,1081.6 L1594.2,1081.2 L1597.8,1080.8 L1601.3,1080.5 L1604.8,1080.3 L1608.3,1080.1 L1611.9,1080.0 L1615.4,1079.9 L1618.9,1079.9 L1622.4,1080.0 L1625.9,1080.1 L1629.3,1080.3 L1632.8,1080.5 L1636.3,1080.7 L1639.8,1081.0 L1643.2,1081.2 L1646.7,1081.5 L1650.2,1081.8 L1653.6,1082.1 L1657.1,1082.4 L1660.6,1082.6 L1664.0,1082.9 L1667.5,1083.1 L1671.0,1083.3 L1674.4,1083.5 L1677.9,1083.6 L1681.4,1083.7 L1684.8,1083.7 L1688.3,1083.8 L1691.8,1083.7 L1695.3,1083.7 L1698.7,1083.6 L1702.2,1083.5 L1705.7,1083.4 L1709.2,1083.2 L1712.7,1083.0 L1716.2,1082.8 L1719.7,1082.6 L1723.2,1082.3 L1726.6,1082.1 L1730.1,1081.8 L1733.6,1081.5 L1737.1,1081.2 L1740.6,1080.8 L1744.1,1080.5 L1747.6,1080.2 L1751.1,1079.8 L1754.6,1079.4 L1758.1,1079.1 L1761.6,1078.7 L1765.1,1078.3 L1768.6,1078.0 L1772.1,1077.6 L1775.6,1077.2 L1779.1,1076.8 L1782.6,1076.5 L1786.2,1076.1 L1789.7,1075.8 L1793.2,1075.4 L1796.7,1075.1 L1800.2,1074.8 L1803.7,1074.5 L1807.2,1074.2 L1810.7,1074.0 L1814.2,1073.7 L1817.7,1073.5 L1821.2,1073.3 L1824.7,1073.1 L1828.2,1072.9 L1831.7,1072.8 L1835.2,1072.7 L1838.7,1072.6 L1842.2,1072.6 L1845.7,1072.5 L1849.2,1072.6 L1852.7,1072.6 L1856.2,1072.7 L1859.7,1072.8 L1863.2,1072.9 L1866.7,1073.1 L1870.2,1073.2 L1873.7,1073.4 L1877.1,1073.6 L1880.6,1073.9 L1884.1,1074.1 L1887.6,1074.3 L1891.1,1074.6 L1894.6,1074.9 L1898.1,1075.1 L1901.6,1075.4 L1905.1,1075.6 L1908.6,1075.9 L1912.1,1076.2 L1915.6,1076.4 L1919.0,1076.7 L1922.5,1076.9 L1926.0,1077.1 L1929.5,1077.3 L1933.0,1077.5 L1936.5,1077.6 L1940.0,1077.8 L1943.5,1077.9 L1947.0,1078.0 L1950.5,1078.0 L1954.0,1078.1 L1957.5,1078.1 L1961.0,1078.1 L1964.5,1078.1 L1968.0,1078.1 L1971.5,1078.1 L1975.0,1078.1 L1978.5,1078.1 L1982.0,1078.1 L1985.5,1078.1 L1989.0,1078.1 L1992.5,1078.2 L1996.0,1078.3 L1999.5,1078.4 L2003.0,1078.5 L2006.5,1078.7 L2010.0,1078.9 L2013.4,1079.2 L2016.9,1079.4 L2020.4,1079.7 L2023.9,1079.9 L2027.4,1080.2 L2030.9,1080.5 L2034.3,1080.7 L2037.8,1081.0 L2041.3,1081.2 L2044.8,1081.5 L2048.3,1081.7 L2051.8,1081.9 L2055.3,1082.1 L2058.8,1082.2 L2062.3,1082.4 L2065.7,1082.5 L2069.2,1082.6 L2072.7,1082.7 L2076.2,1082.7 L2079.7,1082.8 L2083.2,1082.8 L2086.7,1082.8 L2090.2,1082.8 L2093.7,1082.8 L2097.2,1082.8 L2100.8,1082.7 L2104.3,1082.7 L2107.8,1082.6 L2111.3,1082.6 L2114.8,1082.5 L2118.3,1082.4 L2121.8,1082.3 L2125.3,1082.2 L2128.8,1082.1 L2132.3,1082.0 L2135.8,1081.9 L2139.3,1081.7 L2142.8,1081.6 L2146.3,1081.5 L2149.8,1081.3 L2153.3,1081.2 L2156.8,1081.1 L2160.3,1080.9 L2163.8,1080.8 L2167.3,1080.6 L2170.9,1080.5 L2174.4,1080.3 L2177.9,1080.2 L2181.4,1080.1 L2184.9,1079.9 L2188.4,1079.8 L2191.9,1079.7 L2195.4,1079.5 L2198.9,1079.4 L2202.4,1079.3 L2205.9,1079.2 L2209.4,1079.1 L2212.9,1079.0 L2216.4,1078.9 L2219.9,1078.8 L2223.4,1078.8 L2226.9,1078.7 L2230.5,1078.7 L2234.0,1078.6 L2237.5,1078.6 L2241.0,1078.6 L2244.5,1078.6 L2248.0,1078.6 L2251.5,1078.6 L2255.0,1078.6 L2258.5,1078.7 L2262.0,1078.8 L2265.5,1078.8 L2269.0,1078.9 L2272.5,1079.0 L2276.0,1079.2" stroke="#f0f" stroke-width="8"/>
</g>
<line x1="351.7" y1="1073.5" x2="2297.5" y2="1073.5" stroke="#000" stroke-width="5" stroke-linecap="round" stroke-dasharray="14.8 19.14"/>
<g stroke="#000" stroke-width="6" fill="none">
<path d="M329,603 H356 V1547.6" stroke-linejoin="miter" stroke-linecap="round"/>
<path d="M2275,600 V1549" stroke-linecap="butt"/>
<line x1="329" y1="1534" x2="2275" y2="1534" stroke-linecap="round"/>
<line x1="356.0" y1="1534" x2="356.0" y2="1547.6" stroke-linecap="round"/>
<line x1="515.9" y1="1534" x2="515.9" y2="1561.4" stroke-linecap="round"/>
<line x1="675.8" y1="1534" x2="675.8" y2="1547.6" stroke-linecap="round"/>
<line x1="835.7" y1="1534" x2="835.7" y2="1561.4" stroke-linecap="round"/>
<line x1="995.6" y1="1534" x2="995.6" y2="1547.6" stroke-linecap="round"/>
<line x1="1155.5" y1="1534" x2="1155.5" y2="1561.4" stroke-linecap="round"/>
<line x1="1315.4" y1="1534" x2="1315.4" y2="1547.6" stroke-linecap="round"/>
<line x1="1475.3" y1="1534" x2="1475.3" y2="1561.4" stroke-linecap="round"/>
<line x1="1635.2" y1="1534" x2="1635.2" y2="1547.6" stroke-linecap="round"/>
<line x1="1795.1" y1="1534" x2="1795.1" y2="1561.4" stroke-linecap="round"/>
<line x1="1955.0" y1="1534" x2="1955.0" y2="1547.6" stroke-linecap="round"/>
<line x1="2114.9" y1="1534" x2="2114.9" y2="1561.4" stroke-linecap="round"/>
<line x1="2274.8" y1="1534" x2="2274.8" y2="1547.6" stroke-linecap="round"/>
<line x1="342.5" y1="1416.7" x2="356" y2="1416.7" stroke-linecap="round"/>
<line x1="329" y1="1300.3" x2="356" y2="1300.3" stroke-linecap="round"/>
<line x1="342.5" y1="1183.9" x2="356" y2="1183.9" stroke-linecap="round"/>
<line x1="329" y1="1067.5" x2="356" y2="1067.5" stroke-linecap="round"/>
<line x1="342.5" y1="951.1" x2="356" y2="951.1" stroke-linecap="round"/>
<line x1="329" y1="834.7" x2="356" y2="834.7" stroke-linecap="round"/>
<line x1="342.5" y1="718.3" x2="356" y2="718.3" stroke-linecap="round"/>
</g>
<g fill="#000" stroke="#000">
<line x1="612" y1="1303.4" x2="612" y2="1158" stroke-width="8" stroke-linecap="round"/>
<path d="M600.5,1161 L624.5,1161 L612.5,1121 Z" stroke-width="2" stroke-linejoin="round"/>
<line x1="1386" y1="712.2" x2="1386" y2="890" stroke-width="8" stroke-linecap="round"/>
<path d="M1374,886.5 L1398.5,886.5 L1386.3,926.5 Z" stroke-width="2" stroke-linejoin="round"/>
</g>
<rect x="1235" y="85.5" width="986.5" height="171" fill="#fff" stroke="#000" stroke-width="3"/>
<line x1="1272" y1="133" x2="1422.5" y2="133" stroke="#000" stroke-width="9.5" stroke-linecap="round"/>
<line x1="1271.5" y1="217" x2="1423" y2="217" stroke="#f00" stroke-width="8" stroke-linecap="round"/>
<text x="1440" y="157" font-family="'Liberation Sans', Arial, Helvetica, sans-serif" font-size="68">UV 3xHCl</text>
<text x="1440" y="240" font-family="'Liberation Sans', Arial, Helvetica, sans-serif" font-size="68">CD 3xHCl, equal to r=0.7</text>
<rect x="1703.7" y="630.5" width="425.6" height="434.5" fill="#fff" stroke="#000" stroke-width="3"/>
<line x1="1724" y1="689.8" x2="1875" y2="689.8" stroke="#000" stroke-width="8.5" stroke-linecap="round"/>
<text x="1894.5" y="713.2" font-family="'Liberation Sans', Arial, Helvetica, sans-serif" font-size="69.5">ct-DNA</text>
<line x1="1724" y1="776.7" x2="1875" y2="776.7" stroke="#f00" stroke-width="8.5" stroke-linecap="round"/>
<text x="1894.5" y="800.1" font-family="'Liberation Sans', Arial, Helvetica, sans-serif" font-size="69.5" clip-path="url(#clip01)">r=0.1</text>
<line x1="1724" y1="859.4" x2="1875" y2="859.4" stroke="#00f" stroke-width="8.5" stroke-linecap="round"/>
<text x="1894.5" y="882.8" font-family="'Liberation Sans', Arial, Helvetica, sans-serif" font-size="69.5">r=0.3</text>
<line x1="1724" y1="942.6" x2="1875" y2="942.6" stroke="#008080" stroke-width="8.5" stroke-linecap="round"/>
<text x="1894.5" y="966.0" font-family="'Liberation Sans', Arial, Helvetica, sans-serif" font-size="69.5">r=0.5</text>
<line x1="1724" y1="1025.3" x2="1875" y2="1025.3" stroke="#f0f" stroke-width="8.5" stroke-linecap="round"/>
<text x="1894.5" y="1048.7" font-family="'Liberation Sans', Arial, Helvetica, sans-serif" font-size="69.5">r=0.7</text>
<text x="313.5" y="234" font-family="'Liberation Sans', Arial, Helvetica, sans-serif" font-size="88" text-anchor="end" clip-path="url(#clip1)">1</text>
<text x="309" y="492" font-family="'Liberation Sans', Arial, Helvetica, sans-serif" font-size="88" text-anchor="end">0</text>
<text x="309" y="627.1" font-family="'Liberation Sans', Arial, Helvetica, sans-serif" font-size="88" text-anchor="end">4</text>
<text x="309" y="859.9" font-family="'Liberation Sans', Arial, Helvetica, sans-serif" font-size="88" text-anchor="end">2</text>
<text x="309" y="1092.7" font-family="'Liberation Sans', Arial, Helvetica, sans-serif" font-size="88" text-anchor="end">0</text>
<text x="309" y="1325.5" font-family="'Liberation Sans', Arial, Helvetica, sans-serif" font-size="88" text-anchor="end">-2</text>
<text x="309" y="1558.3" font-family="'Liberation Sans', Arial, Helvetica, sans-serif" font-size="88" text-anchor="end">-4</text>
<text x="515.9" y="1648" font-family="'Liberation Sans', Arial, Helvetica, sans-serif" font-size="88" text-anchor="middle">240</text>
<text x="835.7" y="1648" font-family="'Liberation Sans', Arial, Helvetica, sans-serif" font-size="88" text-anchor="middle">260</text>
<text x="1155.5" y="1648" font-family="'Liberation Sans', Arial, Helvetica, sans-serif" font-size="88" text-anchor="middle">280</text>
<text x="1475.3" y="1648" font-family="'Liberation Sans', Arial, Helvetica, sans-serif" font-size="88" text-anchor="middle">300</text>
<text x="1795.1" y="1648" font-family="'Liberation Sans', Arial, Helvetica, sans-serif" font-size="88" text-anchor="middle">320</text>
<text x="2114.9" y="1648" font-family="'Liberation Sans', Arial, Helvetica, sans-serif" font-size="88" text-anchor="middle">340</text>
<text x="1314.5" y="1788" font-family="'Liberation Sans', Arial, Helvetica, sans-serif" font-size="111" font-weight="bold" text-anchor="middle">Wavelength / nm</text>
<text transform="translate(143,373) rotate(-90)" font-family="'Liberation Sans', Arial, Helvetica, sans-serif" font-size="111" font-weight="bold" text-anchor="middle">CD / mdeg</text>
<text transform="translate(176,1051) rotate(-90)" font-family="'Liberation Sans', Arial, Helvetica, sans-serif" font-size="111" font-weight="bold" text-anchor="middle">CD / mdeg</text>
<text transform="translate(2402.2,306.3) rotate(-90) scale(1.02,1.05)" font-family="'Liberation Sans', Arial, Helvetica, sans-serif" font-size="111" font-weight="bold" text-anchor="middle">A</text>
</svg></body></html>
